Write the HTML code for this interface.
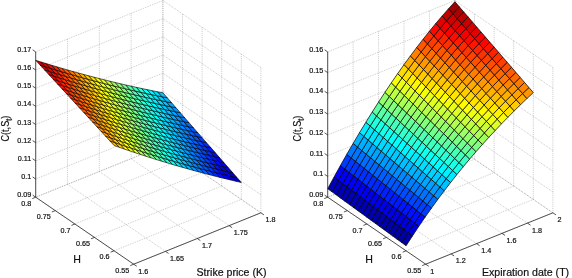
<!DOCTYPE html>
<html><head><meta charset="utf-8"><title>Option price surfaces</title>
<style>
html,body{margin:0;padding:0;background:#fff;}
svg{display:block;}
text{font-family:"Liberation Sans",sans-serif;fill:#111;stroke:#111;stroke-width:0.2px;}
.t{font-size:7.2px;}
.l{font-size:10.6px;}
.sub{font-size:8.5px;}
.g{stroke:#999;stroke-width:0.55;stroke-dasharray:0.9 1.0;fill:none;}
.a{stroke:#2a2a2a;stroke-width:0.8;fill:none;}
.f{stroke:#000;stroke-width:0.62;stroke-linejoin:round;}
.f2{stroke:#000;stroke-width:0.72;stroke-linejoin:round;}
</style></head><body>
<svg width="572" height="278" viewBox="0 0 572 278">
<rect width="572" height="278" fill="#fff"/>
<line class="g" x1="133.70" y1="264.20" x2="35.70" y2="197.20"/>
<line class="g" x1="35.70" y1="197.20" x2="35.70" y2="51.90"/>
<line class="g" x1="165.50" y1="251.35" x2="67.50" y2="184.35"/>
<line class="g" x1="67.50" y1="184.35" x2="67.50" y2="39.05"/>
<line class="g" x1="197.30" y1="238.50" x2="99.30" y2="171.50"/>
<line class="g" x1="99.30" y1="171.50" x2="99.30" y2="26.20"/>
<line class="g" x1="229.10" y1="225.65" x2="131.10" y2="158.65"/>
<line class="g" x1="131.10" y1="158.65" x2="131.10" y2="13.35"/>
<line class="g" x1="260.90" y1="212.80" x2="162.90" y2="145.80"/>
<line class="g" x1="162.90" y1="145.80" x2="162.90" y2="0.50"/>
<line class="g" x1="133.70" y1="264.20" x2="260.90" y2="212.80"/>
<line class="g" x1="260.90" y1="212.80" x2="260.90" y2="67.50"/>
<line class="g" x1="114.10" y1="250.80" x2="241.30" y2="199.40"/>
<line class="g" x1="241.30" y1="199.40" x2="241.30" y2="54.10"/>
<line class="g" x1="94.50" y1="237.40" x2="221.70" y2="186.00"/>
<line class="g" x1="221.70" y1="186.00" x2="221.70" y2="40.70"/>
<line class="g" x1="74.90" y1="224.00" x2="202.10" y2="172.60"/>
<line class="g" x1="202.10" y1="172.60" x2="202.10" y2="27.30"/>
<line class="g" x1="55.30" y1="210.60" x2="182.50" y2="159.20"/>
<line class="g" x1="182.50" y1="159.20" x2="182.50" y2="13.90"/>
<line class="g" x1="35.70" y1="197.20" x2="162.90" y2="145.80"/>
<line class="g" x1="162.90" y1="145.80" x2="162.90" y2="0.50"/>
<line class="g" x1="35.70" y1="197.20" x2="162.90" y2="145.80"/>
<line class="g" x1="162.90" y1="145.80" x2="260.90" y2="212.80"/>
<line class="g" x1="35.70" y1="179.04" x2="162.90" y2="127.64"/>
<line class="g" x1="162.90" y1="127.64" x2="260.90" y2="194.64"/>
<line class="g" x1="35.70" y1="160.88" x2="162.90" y2="109.47"/>
<line class="g" x1="162.90" y1="109.47" x2="260.90" y2="176.47"/>
<line class="g" x1="35.70" y1="142.71" x2="162.90" y2="91.31"/>
<line class="g" x1="162.90" y1="91.31" x2="260.90" y2="158.31"/>
<line class="g" x1="35.70" y1="124.55" x2="162.90" y2="73.15"/>
<line class="g" x1="162.90" y1="73.15" x2="260.90" y2="140.15"/>
<line class="g" x1="35.70" y1="106.39" x2="162.90" y2="54.99"/>
<line class="g" x1="162.90" y1="54.99" x2="260.90" y2="121.99"/>
<line class="g" x1="35.70" y1="88.22" x2="162.90" y2="36.82"/>
<line class="g" x1="162.90" y1="36.82" x2="260.90" y2="103.82"/>
<line class="g" x1="35.70" y1="70.06" x2="162.90" y2="18.66"/>
<line class="g" x1="162.90" y1="18.66" x2="260.90" y2="85.66"/>
<line class="g" x1="35.70" y1="51.90" x2="162.90" y2="0.50"/>
<line class="g" x1="162.90" y1="0.50" x2="260.90" y2="67.50"/>
<polygon class="f" fill="#ffb100" points="114.10,145.50 119.40,147.36 115.04,142.62 109.74,140.77"/>
<polygon class="f" fill="#ffa400" points="109.74,140.77 115.04,142.62 110.69,137.87 105.39,136.03"/>
<polygon class="f" fill="#ff9600" points="105.39,136.03 110.69,137.87 106.33,133.13 101.03,131.30"/>
<polygon class="f" fill="#ff8900" points="101.03,131.30 106.33,133.13 101.98,128.39 96.68,126.57"/>
<polygon class="f" fill="#ff7b00" points="96.68,126.57 101.98,128.39 97.62,123.64 92.32,121.83"/>
<polygon class="f" fill="#ff6e00" points="92.32,121.83 97.62,123.64 93.27,118.90 87.97,117.10"/>
<polygon class="f" fill="#ff6000" points="87.97,117.10 93.27,118.90 88.91,114.15 83.61,112.37"/>
<polygon class="f" fill="#ff5300" points="83.61,112.37 88.91,114.15 84.56,109.41 79.26,107.63"/>
<polygon class="f" fill="#ff4500" points="79.26,107.63 84.56,109.41 80.20,104.67 74.90,102.90"/>
<polygon class="f" fill="#ff3800" points="74.90,102.90 80.20,104.67 75.84,99.92 70.54,98.17"/>
<polygon class="f" fill="#ff2a00" points="70.54,98.17 75.84,99.92 71.49,95.18 66.19,93.43"/>
<polygon class="f" fill="#ff1d00" points="66.19,93.43 71.49,95.18 67.13,90.44 61.83,88.70"/>
<polygon class="f" fill="#ff0f00" points="61.83,88.70 67.13,90.44 62.78,85.69 57.48,83.97"/>
<polygon class="f" fill="#ff0200" points="57.48,83.97 62.78,85.69 58.42,80.95 53.12,79.23"/>
<polygon class="f" fill="#f30000" points="53.12,79.23 58.42,80.95 54.07,76.20 48.77,74.50"/>
<polygon class="f" fill="#e60000" points="48.77,74.50 54.07,76.20 49.71,71.46 44.41,69.77"/>
<polygon class="f" fill="#d90000" points="44.41,69.77 49.71,71.46 45.36,66.72 40.06,65.03"/>
<polygon class="f" fill="#cb0000" points="40.06,65.03 45.36,66.72 41.00,61.97 35.70,60.30"/>
<polygon class="f" fill="#ffd000" points="119.40,147.36 124.70,149.19 120.34,144.44 115.04,142.62"/>
<polygon class="f" fill="#ffc200" points="115.04,142.62 120.34,144.44 115.99,139.69 110.69,137.87"/>
<polygon class="f" fill="#ffb500" points="110.69,137.87 115.99,139.69 111.63,134.93 106.33,133.13"/>
<polygon class="f" fill="#ffa700" points="106.33,133.13 111.63,134.93 107.28,130.18 101.98,128.39"/>
<polygon class="f" fill="#ff9900" points="101.98,128.39 107.28,130.18 102.92,125.42 97.62,123.64"/>
<polygon class="f" fill="#ff8c00" points="97.62,123.64 102.92,125.42 98.57,120.67 93.27,118.90"/>
<polygon class="f" fill="#ff7e00" points="93.27,118.90 98.57,120.67 94.21,115.92 88.91,114.15"/>
<polygon class="f" fill="#ff7100" points="88.91,114.15 94.21,115.92 89.86,111.16 84.56,109.41"/>
<polygon class="f" fill="#ff6300" points="84.56,109.41 89.86,111.16 85.50,106.41 80.20,104.67"/>
<polygon class="f" fill="#ff5600" points="80.20,104.67 85.50,106.41 81.14,101.65 75.84,99.92"/>
<polygon class="f" fill="#ff4800" points="75.84,99.92 81.14,101.65 76.79,96.90 71.49,95.18"/>
<polygon class="f" fill="#ff3b00" points="71.49,95.18 76.79,96.90 72.43,92.14 67.13,90.44"/>
<polygon class="f" fill="#ff2d00" points="67.13,90.44 72.43,92.14 68.08,87.39 62.78,85.69"/>
<polygon class="f" fill="#ff2000" points="62.78,85.69 68.08,87.39 63.72,82.64 58.42,80.95"/>
<polygon class="f" fill="#ff1200" points="58.42,80.95 63.72,82.64 59.37,77.88 54.07,76.20"/>
<polygon class="f" fill="#ff0500" points="54.07,76.20 59.37,77.88 55.01,73.13 49.71,71.46"/>
<polygon class="f" fill="#f60000" points="49.71,71.46 55.01,73.13 50.66,68.37 45.36,66.72"/>
<polygon class="f" fill="#e80000" points="45.36,66.72 50.66,68.37 46.30,63.62 41.00,61.97"/>
<polygon class="f" fill="#ffee00" points="124.70,149.19 130.00,151.00 125.64,146.24 120.34,144.44"/>
<polygon class="f" fill="#ffe100" points="120.34,144.44 125.64,146.24 121.29,141.47 115.99,139.69"/>
<polygon class="f" fill="#ffd300" points="115.99,139.69 121.29,141.47 116.93,136.71 111.63,134.93"/>
<polygon class="f" fill="#ffc500" points="111.63,134.93 116.93,136.71 112.58,131.94 107.28,130.18"/>
<polygon class="f" fill="#ffb800" points="107.28,130.18 112.58,131.94 108.22,127.18 102.92,125.42"/>
<polygon class="f" fill="#ffaa00" points="102.92,125.42 108.22,127.18 103.87,122.41 98.57,120.67"/>
<polygon class="f" fill="#ff9c00" points="98.57,120.67 103.87,122.41 99.51,117.65 94.21,115.92"/>
<polygon class="f" fill="#ff8f00" points="94.21,115.92 99.51,117.65 95.16,112.88 89.86,111.16"/>
<polygon class="f" fill="#ff8100" points="89.86,111.16 95.16,112.88 90.80,108.12 85.50,106.41"/>
<polygon class="f" fill="#ff7400" points="85.50,106.41 90.80,108.12 86.44,103.35 81.14,101.65"/>
<polygon class="f" fill="#ff6600" points="81.14,101.65 86.44,103.35 82.09,98.59 76.79,96.90"/>
<polygon class="f" fill="#ff5800" points="76.79,96.90 82.09,98.59 77.73,93.82 72.43,92.14"/>
<polygon class="f" fill="#ff4b00" points="72.43,92.14 77.73,93.82 73.38,89.06 68.08,87.39"/>
<polygon class="f" fill="#ff3d00" points="68.08,87.39 73.38,89.06 69.02,84.30 63.72,82.64"/>
<polygon class="f" fill="#ff2f00" points="63.72,82.64 69.02,84.30 64.67,79.53 59.37,77.88"/>
<polygon class="f" fill="#ff2200" points="59.37,77.88 64.67,79.53 60.31,74.77 55.01,73.13"/>
<polygon class="f" fill="#ff1400" points="55.01,73.13 60.31,74.77 55.96,70.00 50.66,68.37"/>
<polygon class="f" fill="#ff0700" points="50.66,68.37 55.96,70.00 51.60,65.24 46.30,63.62"/>
<polygon class="f" fill="#f2ff0d" points="130.00,151.00 135.30,152.78 130.94,148.00 125.64,146.24"/>
<polygon class="f" fill="#ffff00" points="125.64,146.24 130.94,148.00 126.59,143.23 121.29,141.47"/>
<polygon class="f" fill="#fff100" points="121.29,141.47 126.59,143.23 122.23,138.45 116.93,136.71"/>
<polygon class="f" fill="#ffe300" points="116.93,136.71 122.23,138.45 117.88,133.68 112.58,131.94"/>
<polygon class="f" fill="#ffd600" points="112.58,131.94 117.88,133.68 113.52,128.90 108.22,127.18"/>
<polygon class="f" fill="#ffc800" points="108.22,127.18 113.52,128.90 109.17,124.13 103.87,122.41"/>
<polygon class="f" fill="#ffba00" points="103.87,122.41 109.17,124.13 104.81,119.35 99.51,117.65"/>
<polygon class="f" fill="#ffac00" points="99.51,117.65 104.81,119.35 100.46,114.58 95.16,112.88"/>
<polygon class="f" fill="#ff9f00" points="95.16,112.88 100.46,114.58 96.10,109.80 90.80,108.12"/>
<polygon class="f" fill="#ff9100" points="90.80,108.12 96.10,109.80 91.74,105.03 86.44,103.35"/>
<polygon class="f" fill="#ff8300" points="86.44,103.35 91.74,105.03 87.39,100.25 82.09,98.59"/>
<polygon class="f" fill="#ff7600" points="82.09,98.59 87.39,100.25 83.03,95.48 77.73,93.82"/>
<polygon class="f" fill="#ff6800" points="77.73,93.82 83.03,95.48 78.68,90.70 73.38,89.06"/>
<polygon class="f" fill="#ff5a00" points="73.38,89.06 78.68,90.70 74.32,85.93 69.02,84.30"/>
<polygon class="f" fill="#ff4d00" points="69.02,84.30 74.32,85.93 69.97,81.15 64.67,79.53"/>
<polygon class="f" fill="#ff3f00" points="64.67,79.53 69.97,81.15 65.61,76.38 60.31,74.77"/>
<polygon class="f" fill="#ff3100" points="60.31,74.77 65.61,76.38 61.26,71.60 55.96,70.00"/>
<polygon class="f" fill="#ff2300" points="55.96,70.00 61.26,71.60 56.90,66.83 51.60,65.24"/>
<polygon class="f" fill="#d4ff2b" points="135.30,152.78 140.60,154.53 136.24,149.74 130.94,148.00"/>
<polygon class="f" fill="#e1ff1e" points="130.94,148.00 136.24,149.74 131.89,144.96 126.59,143.23"/>
<polygon class="f" fill="#efff10" points="126.59,143.23 131.89,144.96 127.53,140.17 122.23,138.45"/>
<polygon class="f" fill="#fdff02" points="122.23,138.45 127.53,140.17 123.18,135.39 117.88,133.68"/>
<polygon class="f" fill="#fff300" points="117.88,133.68 123.18,135.39 118.82,130.60 113.52,128.90"/>
<polygon class="f" fill="#ffe600" points="113.52,128.90 118.82,130.60 114.47,125.82 109.17,124.13"/>
<polygon class="f" fill="#ffd800" points="109.17,124.13 114.47,125.82 110.11,121.03 104.81,119.35"/>
<polygon class="f" fill="#ffca00" points="104.81,119.35 110.11,121.03 105.76,116.24 100.46,114.58"/>
<polygon class="f" fill="#ffbc00" points="100.46,114.58 105.76,116.24 101.40,111.46 96.10,109.80"/>
<polygon class="f" fill="#ffae00" points="96.10,109.80 101.40,111.46 97.04,106.67 91.74,105.03"/>
<polygon class="f" fill="#ffa100" points="91.74,105.03 97.04,106.67 92.69,101.89 87.39,100.25"/>
<polygon class="f" fill="#ff9300" points="87.39,100.25 92.69,101.89 88.33,97.10 83.03,95.48"/>
<polygon class="f" fill="#ff8500" points="83.03,95.48 88.33,97.10 83.98,92.32 78.68,90.70"/>
<polygon class="f" fill="#ff7700" points="78.68,90.70 83.98,92.32 79.62,87.53 74.32,85.93"/>
<polygon class="f" fill="#ff6a00" points="74.32,85.93 79.62,87.53 75.27,82.75 69.97,81.15"/>
<polygon class="f" fill="#ff5c00" points="69.97,81.15 75.27,82.75 70.91,77.96 65.61,76.38"/>
<polygon class="f" fill="#ff4e00" points="65.61,76.38 70.91,77.96 66.56,73.18 61.26,71.60"/>
<polygon class="f" fill="#ff4000" points="61.26,71.60 66.56,73.18 62.20,68.39 56.90,66.83"/>
<polygon class="f" fill="#b6ff49" points="140.60,154.53 145.90,156.25 141.54,151.45 136.24,149.74"/>
<polygon class="f" fill="#c4ff3b" points="136.24,149.74 141.54,151.45 137.19,146.66 131.89,144.96"/>
<polygon class="f" fill="#d1ff2e" points="131.89,144.96 137.19,146.66 132.83,141.86 127.53,140.17"/>
<polygon class="f" fill="#dfff20" points="127.53,140.17 132.83,141.86 128.48,137.07 123.18,135.39"/>
<polygon class="f" fill="#edff12" points="123.18,135.39 128.48,137.07 124.12,132.27 118.82,130.60"/>
<polygon class="f" fill="#fbff04" points="118.82,130.60 124.12,132.27 119.77,127.47 114.47,125.82"/>
<polygon class="f" fill="#fff500" points="114.47,125.82 119.77,127.47 115.41,122.68 110.11,121.03"/>
<polygon class="f" fill="#ffe700" points="110.11,121.03 115.41,122.68 111.06,117.88 105.76,116.24"/>
<polygon class="f" fill="#ffd900" points="105.76,116.24 111.06,117.88 106.70,113.09 101.40,111.46"/>
<polygon class="f" fill="#ffcc00" points="101.40,111.46 106.70,113.09 102.34,108.29 97.04,106.67"/>
<polygon class="f" fill="#ffbe00" points="97.04,106.67 102.34,108.29 97.99,103.50 92.69,101.89"/>
<polygon class="f" fill="#ffb000" points="92.69,101.89 97.99,103.50 93.63,98.70 88.33,97.10"/>
<polygon class="f" fill="#ffa200" points="88.33,97.10 93.63,98.70 89.28,93.90 83.98,92.32"/>
<polygon class="f" fill="#ff9400" points="83.98,92.32 89.28,93.90 84.92,89.11 79.62,87.53"/>
<polygon class="f" fill="#ff8600" points="79.62,87.53 84.92,89.11 80.57,84.31 75.27,82.75"/>
<polygon class="f" fill="#ff7800" points="75.27,82.75 80.57,84.31 76.21,79.52 70.91,77.96"/>
<polygon class="f" fill="#ff6b00" points="70.91,77.96 76.21,79.52 71.86,74.72 66.56,73.18"/>
<polygon class="f" fill="#ff5d00" points="66.56,73.18 71.86,74.72 67.50,69.92 62.20,68.39"/>
<polygon class="f" fill="#98ff67" points="145.90,156.25 151.20,157.94 146.84,153.14 141.54,151.45"/>
<polygon class="f" fill="#a6ff59" points="141.54,151.45 146.84,153.14 142.49,148.33 137.19,146.66"/>
<polygon class="f" fill="#b4ff4b" points="137.19,146.66 142.49,148.33 138.13,143.53 132.83,141.86"/>
<polygon class="f" fill="#c2ff3d" points="132.83,141.86 138.13,143.53 133.78,138.72 128.48,137.07"/>
<polygon class="f" fill="#d0ff2f" points="128.48,137.07 133.78,138.72 129.42,133.91 124.12,132.27"/>
<polygon class="f" fill="#deff21" points="124.12,132.27 129.42,133.91 125.07,129.11 119.77,127.47"/>
<polygon class="f" fill="#ecff13" points="119.77,127.47 125.07,129.11 120.71,124.30 115.41,122.68"/>
<polygon class="f" fill="#faff05" points="115.41,122.68 120.71,124.30 116.36,119.49 111.06,117.88"/>
<polygon class="f" fill="#fff600" points="111.06,117.88 116.36,119.49 112.00,114.69 106.70,113.09"/>
<polygon class="f" fill="#ffe800" points="106.70,113.09 112.00,114.69 107.64,109.88 102.34,108.29"/>
<polygon class="f" fill="#ffdb00" points="102.34,108.29 107.64,109.88 103.29,105.08 97.99,103.50"/>
<polygon class="f" fill="#ffcd00" points="97.99,103.50 103.29,105.08 98.93,100.27 93.63,98.70"/>
<polygon class="f" fill="#ffbf00" points="93.63,98.70 98.93,100.27 94.58,95.46 89.28,93.90"/>
<polygon class="f" fill="#ffb100" points="89.28,93.90 94.58,95.46 90.22,90.66 84.92,89.11"/>
<polygon class="f" fill="#ffa300" points="84.92,89.11 90.22,90.66 85.87,85.85 80.57,84.31"/>
<polygon class="f" fill="#ff9500" points="80.57,84.31 85.87,85.85 81.51,81.04 76.21,79.52"/>
<polygon class="f" fill="#ff8700" points="76.21,79.52 81.51,81.04 77.16,76.24 71.86,74.72"/>
<polygon class="f" fill="#ff7900" points="71.86,74.72 77.16,76.24 72.80,71.43 67.50,69.92"/>
<polygon class="f" fill="#7bff84" points="151.20,157.94 156.50,159.61 152.14,154.79 146.84,153.14"/>
<polygon class="f" fill="#89ff76" points="146.84,153.14 152.14,154.79 147.79,149.98 142.49,148.33"/>
<polygon class="f" fill="#97ff68" points="142.49,148.33 147.79,149.98 143.43,145.16 138.13,143.53"/>
<polygon class="f" fill="#a5ff5a" points="138.13,143.53 143.43,145.16 139.08,140.34 133.78,138.72"/>
<polygon class="f" fill="#b3ff4c" points="133.78,138.72 139.08,140.34 134.72,135.53 129.42,133.91"/>
<polygon class="f" fill="#c1ff3e" points="129.42,133.91 134.72,135.53 130.37,130.71 125.07,129.11"/>
<polygon class="f" fill="#cfff30" points="125.07,129.11 130.37,130.71 126.01,125.89 120.71,124.30"/>
<polygon class="f" fill="#ddff22" points="120.71,124.30 126.01,125.89 121.66,121.08 116.36,119.49"/>
<polygon class="f" fill="#ebff14" points="116.36,119.49 121.66,121.08 117.30,116.26 112.00,114.69"/>
<polygon class="f" fill="#f9ff06" points="112.00,114.69 117.30,116.26 112.94,111.44 107.64,109.88"/>
<polygon class="f" fill="#fff700" points="107.64,109.88 112.94,111.44 108.59,106.63 103.29,105.08"/>
<polygon class="f" fill="#ffe900" points="103.29,105.08 108.59,106.63 104.23,101.81 98.93,100.27"/>
<polygon class="f" fill="#ffdb00" points="98.93,100.27 104.23,101.81 99.88,96.99 94.58,95.46"/>
<polygon class="f" fill="#ffcd00" points="94.58,95.46 99.88,96.99 95.52,92.18 90.22,90.66"/>
<polygon class="f" fill="#ffbf00" points="90.22,90.66 95.52,92.18 91.17,87.36 85.87,85.85"/>
<polygon class="f" fill="#ffb100" points="85.87,85.85 91.17,87.36 86.81,82.54 81.51,81.04"/>
<polygon class="f" fill="#ffa300" points="81.51,81.04 86.81,82.54 82.46,77.73 77.16,76.24"/>
<polygon class="f" fill="#ff9500" points="77.16,76.24 82.46,77.73 78.10,72.91 72.80,71.43"/>
<polygon class="f" fill="#5dffa2" points="156.50,159.61 161.80,161.25 157.44,156.42 152.14,154.79"/>
<polygon class="f" fill="#6cff93" points="152.14,154.79 157.44,156.42 153.09,151.60 147.79,149.98"/>
<polygon class="f" fill="#7aff85" points="147.79,149.98 153.09,151.60 148.73,146.77 143.43,145.16"/>
<polygon class="f" fill="#88ff77" points="143.43,145.16 148.73,146.77 144.38,141.94 139.08,140.34"/>
<polygon class="f" fill="#96ff69" points="139.08,140.34 144.38,141.94 140.02,137.11 134.72,135.53"/>
<polygon class="f" fill="#a4ff5b" points="134.72,135.53 140.02,137.11 135.67,132.29 130.37,130.71"/>
<polygon class="f" fill="#b2ff4d" points="130.37,130.71 135.67,132.29 131.31,127.46 126.01,125.89"/>
<polygon class="f" fill="#c0ff3f" points="126.01,125.89 131.31,127.46 126.96,122.63 121.66,121.08"/>
<polygon class="f" fill="#ceff31" points="121.66,121.08 126.96,122.63 122.60,117.81 117.30,116.26"/>
<polygon class="f" fill="#dcff23" points="117.30,116.26 122.60,117.81 118.24,112.98 112.94,111.44"/>
<polygon class="f" fill="#eaff15" points="112.94,111.44 118.24,112.98 113.89,108.15 108.59,106.63"/>
<polygon class="f" fill="#f9ff06" points="108.59,106.63 113.89,108.15 109.53,103.32 104.23,101.81"/>
<polygon class="f" fill="#fff700" points="104.23,101.81 109.53,103.32 105.18,98.50 99.88,96.99"/>
<polygon class="f" fill="#ffe900" points="99.88,96.99 105.18,98.50 100.82,93.67 95.52,92.18"/>
<polygon class="f" fill="#ffdb00" points="95.52,92.18 100.82,93.67 96.47,88.84 91.17,87.36"/>
<polygon class="f" fill="#ffcd00" points="91.17,87.36 96.47,88.84 92.11,84.02 86.81,82.54"/>
<polygon class="f" fill="#ffbf00" points="86.81,82.54 92.11,84.02 87.76,79.19 82.46,77.73"/>
<polygon class="f" fill="#ffb100" points="82.46,77.73 87.76,79.19 83.40,74.36 78.10,72.91"/>
<polygon class="f" fill="#40ffbf" points="161.80,161.25 167.10,162.86 162.74,158.02 157.44,156.42"/>
<polygon class="f" fill="#4fffb0" points="157.44,156.42 162.74,158.02 158.39,153.19 153.09,151.60"/>
<polygon class="f" fill="#5dffa2" points="153.09,151.60 158.39,153.19 154.03,148.35 148.73,146.77"/>
<polygon class="f" fill="#6bff94" points="148.73,146.77 154.03,148.35 149.68,143.51 144.38,141.94"/>
<polygon class="f" fill="#79ff86" points="144.38,141.94 149.68,143.51 145.32,138.67 140.02,137.11"/>
<polygon class="f" fill="#87ff78" points="140.02,137.11 145.32,138.67 140.97,133.84 135.67,132.29"/>
<polygon class="f" fill="#96ff69" points="135.67,132.29 140.97,133.84 136.61,129.00 131.31,127.46"/>
<polygon class="f" fill="#a4ff5b" points="131.31,127.46 136.61,129.00 132.26,124.16 126.96,122.63"/>
<polygon class="f" fill="#b2ff4d" points="126.96,122.63 132.26,124.16 127.90,119.32 122.60,117.81"/>
<polygon class="f" fill="#c0ff3f" points="122.60,117.81 127.90,119.32 123.54,114.49 118.24,112.98"/>
<polygon class="f" fill="#ceff31" points="118.24,112.98 123.54,114.49 119.19,109.65 113.89,108.15"/>
<polygon class="f" fill="#dcff23" points="113.89,108.15 119.19,109.65 114.83,104.81 109.53,103.32"/>
<polygon class="f" fill="#ebff14" points="109.53,103.32 114.83,104.81 110.48,99.97 105.18,98.50"/>
<polygon class="f" fill="#f9ff06" points="105.18,98.50 110.48,99.97 106.12,95.14 100.82,93.67"/>
<polygon class="f" fill="#fff700" points="100.82,93.67 106.12,95.14 101.77,90.30 96.47,88.84"/>
<polygon class="f" fill="#ffe900" points="96.47,88.84 101.77,90.30 97.41,85.46 92.11,84.02"/>
<polygon class="f" fill="#ffdb00" points="92.11,84.02 97.41,85.46 93.06,80.62 87.76,79.19"/>
<polygon class="f" fill="#ffcc00" points="87.76,79.19 93.06,80.62 88.70,75.79 83.40,74.36"/>
<polygon class="f" fill="#24ffdb" points="167.10,162.86 172.40,164.44 168.04,159.60 162.74,158.02"/>
<polygon class="f" fill="#32ffcd" points="162.74,158.02 168.04,159.60 163.69,154.75 158.39,153.19"/>
<polygon class="f" fill="#40ffbf" points="158.39,153.19 163.69,154.75 159.33,149.90 154.03,148.35"/>
<polygon class="f" fill="#4effb1" points="154.03,148.35 159.33,149.90 154.98,145.05 149.68,143.51"/>
<polygon class="f" fill="#5dffa2" points="149.68,143.51 154.98,145.05 150.62,140.20 145.32,138.67"/>
<polygon class="f" fill="#6bff94" points="145.32,138.67 150.62,140.20 146.27,135.36 140.97,133.84"/>
<polygon class="f" fill="#79ff86" points="140.97,133.84 146.27,135.36 141.91,130.51 136.61,129.00"/>
<polygon class="f" fill="#87ff78" points="136.61,129.00 141.91,130.51 137.56,125.66 132.26,124.16"/>
<polygon class="f" fill="#96ff69" points="132.26,124.16 137.56,125.66 133.20,120.81 127.90,119.32"/>
<polygon class="f" fill="#a4ff5b" points="127.90,119.32 133.20,120.81 128.84,115.97 123.54,114.49"/>
<polygon class="f" fill="#b2ff4d" points="123.54,114.49 128.84,115.97 124.49,111.12 119.19,109.65"/>
<polygon class="f" fill="#c1ff3e" points="119.19,109.65 124.49,111.12 120.13,106.27 114.83,104.81"/>
<polygon class="f" fill="#cfff30" points="114.83,104.81 120.13,106.27 115.78,101.42 110.48,99.97"/>
<polygon class="f" fill="#ddff22" points="110.48,99.97 115.78,101.42 111.42,96.57 106.12,95.14"/>
<polygon class="f" fill="#ebff14" points="106.12,95.14 111.42,96.57 107.07,91.73 101.77,90.30"/>
<polygon class="f" fill="#faff05" points="101.77,90.30 107.07,91.73 102.71,86.88 97.41,85.46"/>
<polygon class="f" fill="#fff600" points="97.41,85.46 102.71,86.88 98.36,82.03 93.06,80.62"/>
<polygon class="f" fill="#ffe800" points="93.06,80.62 98.36,82.03 94.00,77.18 88.70,75.79"/>
<polygon class="f" fill="#07fff8" points="172.40,164.44 177.70,166.00 173.34,161.14 168.04,159.60"/>
<polygon class="f" fill="#15ffea" points="168.04,159.60 173.34,161.14 168.99,156.28 163.69,154.75"/>
<polygon class="f" fill="#24ffdb" points="163.69,154.75 168.99,156.28 164.63,151.43 159.33,149.90"/>
<polygon class="f" fill="#32ffcd" points="159.33,149.90 164.63,151.43 160.28,146.57 154.98,145.05"/>
<polygon class="f" fill="#40ffbf" points="154.98,145.05 160.28,146.57 155.92,141.71 150.62,140.20"/>
<polygon class="f" fill="#4fffb0" points="150.62,140.20 155.92,141.71 151.57,136.85 146.27,135.36"/>
<polygon class="f" fill="#5dffa2" points="146.27,135.36 151.57,136.85 147.21,131.99 141.91,130.51"/>
<polygon class="f" fill="#6bff94" points="141.91,130.51 147.21,131.99 142.86,127.13 137.56,125.66"/>
<polygon class="f" fill="#7aff85" points="137.56,125.66 142.86,127.13 138.50,122.28 133.20,120.81"/>
<polygon class="f" fill="#88ff77" points="133.20,120.81 138.50,122.28 134.14,117.42 128.84,115.97"/>
<polygon class="f" fill="#96ff69" points="128.84,115.97 134.14,117.42 129.79,112.56 124.49,111.12"/>
<polygon class="f" fill="#a5ff5a" points="124.49,111.12 129.79,112.56 125.43,107.70 120.13,106.27"/>
<polygon class="f" fill="#b3ff4c" points="120.13,106.27 125.43,107.70 121.08,102.84 115.78,101.42"/>
<polygon class="f" fill="#c2ff3d" points="115.78,101.42 121.08,102.84 116.72,97.98 111.42,96.57"/>
<polygon class="f" fill="#d0ff2f" points="111.42,96.57 116.72,97.98 112.37,93.12 107.07,91.73"/>
<polygon class="f" fill="#deff21" points="107.07,91.73 112.37,93.12 108.01,88.27 102.71,86.88"/>
<polygon class="f" fill="#edff12" points="102.71,86.88 108.01,88.27 103.66,83.41 98.36,82.03"/>
<polygon class="f" fill="#fbff04" points="98.36,82.03 103.66,83.41 99.30,78.55 94.00,77.18"/>
<polygon class="f" fill="#00eaff" points="177.70,166.00 183.00,167.53 178.64,162.66 173.34,161.14"/>
<polygon class="f" fill="#00f8ff" points="173.34,161.14 178.64,162.66 174.29,157.79 168.99,156.28"/>
<polygon class="f" fill="#08fff7" points="168.99,156.28 174.29,157.79 169.93,152.92 164.63,151.43"/>
<polygon class="f" fill="#16ffe9" points="164.63,151.43 169.93,152.92 165.58,148.05 160.28,146.57"/>
<polygon class="f" fill="#24ffdb" points="160.28,146.57 165.58,148.05 161.22,143.18 155.92,141.71"/>
<polygon class="f" fill="#33ffcc" points="155.92,141.71 161.22,143.18 156.87,138.32 151.57,136.85"/>
<polygon class="f" fill="#41ffbe" points="151.57,136.85 156.87,138.32 152.51,133.45 147.21,131.99"/>
<polygon class="f" fill="#50ffaf" points="147.21,131.99 152.51,133.45 148.16,128.58 142.86,127.13"/>
<polygon class="f" fill="#5effa1" points="142.86,127.13 148.16,128.58 143.80,123.71 138.50,122.28"/>
<polygon class="f" fill="#6dff92" points="138.50,122.28 143.80,123.71 139.44,118.84 134.14,117.42"/>
<polygon class="f" fill="#7bff84" points="134.14,117.42 139.44,118.84 135.09,113.97 129.79,112.56"/>
<polygon class="f" fill="#89ff76" points="129.79,112.56 135.09,113.97 130.73,109.10 125.43,107.70"/>
<polygon class="f" fill="#98ff67" points="125.43,107.70 130.73,109.10 126.38,104.23 121.08,102.84"/>
<polygon class="f" fill="#a6ff59" points="121.08,102.84 126.38,104.23 122.02,99.37 116.72,97.98"/>
<polygon class="f" fill="#b5ff4a" points="116.72,97.98 122.02,99.37 117.67,94.50 112.37,93.12"/>
<polygon class="f" fill="#c3ff3c" points="112.37,93.12 117.67,94.50 113.31,89.63 108.01,88.27"/>
<polygon class="f" fill="#d1ff2e" points="108.01,88.27 113.31,89.63 108.96,84.76 103.66,83.41"/>
<polygon class="f" fill="#e0ff1f" points="103.66,83.41 108.96,84.76 104.60,79.89 99.30,78.55"/>
<polygon class="f" fill="#00ceff" points="183.00,167.53 188.30,169.03 183.94,164.15 178.64,162.66"/>
<polygon class="f" fill="#00dcff" points="178.64,162.66 183.94,164.15 179.59,159.27 174.29,157.79"/>
<polygon class="f" fill="#00ebff" points="174.29,157.79 179.59,159.27 175.23,154.39 169.93,152.92"/>
<polygon class="f" fill="#00f9ff" points="169.93,152.92 175.23,154.39 170.88,149.51 165.58,148.05"/>
<polygon class="f" fill="#09fff6" points="165.58,148.05 170.88,149.51 166.52,144.63 161.22,143.18"/>
<polygon class="f" fill="#17ffe8" points="161.22,143.18 166.52,144.63 162.17,139.75 156.87,138.32"/>
<polygon class="f" fill="#26ffd9" points="156.87,138.32 162.17,139.75 157.81,134.87 152.51,133.45"/>
<polygon class="f" fill="#34ffcb" points="152.51,133.45 157.81,134.87 153.46,129.99 148.16,128.58"/>
<polygon class="f" fill="#43ffbc" points="148.16,128.58 153.46,129.99 149.10,125.12 143.80,123.71"/>
<polygon class="f" fill="#51ffae" points="143.80,123.71 149.10,125.12 144.74,120.24 139.44,118.84"/>
<polygon class="f" fill="#60ff9f" points="139.44,118.84 144.74,120.24 140.39,115.36 135.09,113.97"/>
<polygon class="f" fill="#6eff91" points="135.09,113.97 140.39,115.36 136.03,110.48 130.73,109.10"/>
<polygon class="f" fill="#7dff82" points="130.73,109.10 136.03,110.48 131.68,105.60 126.38,104.23"/>
<polygon class="f" fill="#8bff74" points="126.38,104.23 131.68,105.60 127.32,100.72 122.02,99.37"/>
<polygon class="f" fill="#9aff65" points="122.02,99.37 127.32,100.72 122.97,95.84 117.67,94.50"/>
<polygon class="f" fill="#a8ff57" points="117.67,94.50 122.97,95.84 118.61,90.96 113.31,89.63"/>
<polygon class="f" fill="#b7ff48" points="113.31,89.63 118.61,90.96 114.26,86.08 108.96,84.76"/>
<polygon class="f" fill="#c5ff3a" points="108.96,84.76 114.26,86.08 109.90,81.20 104.60,79.89"/>
<polygon class="f" fill="#00b2ff" points="188.30,169.03 193.60,170.50 189.24,165.61 183.94,164.15"/>
<polygon class="f" fill="#00c0ff" points="183.94,164.15 189.24,165.61 184.89,160.72 179.59,159.27"/>
<polygon class="f" fill="#00cfff" points="179.59,159.27 184.89,160.72 180.53,155.83 175.23,154.39"/>
<polygon class="f" fill="#00ddff" points="175.23,154.39 180.53,155.83 176.18,150.94 170.88,149.51"/>
<polygon class="f" fill="#00ecff" points="170.88,149.51 176.18,150.94 171.82,146.05 166.52,144.63"/>
<polygon class="f" fill="#00fbff" points="166.52,144.63 171.82,146.05 167.47,141.16 162.17,139.75"/>
<polygon class="f" fill="#0afff5" points="162.17,139.75 167.47,141.16 163.11,136.27 157.81,134.87"/>
<polygon class="f" fill="#19ffe6" points="157.81,134.87 163.11,136.27 158.76,131.38 153.46,129.99"/>
<polygon class="f" fill="#27ffd8" points="153.46,129.99 158.76,131.38 154.40,126.49 149.10,125.12"/>
<polygon class="f" fill="#36ffc9" points="149.10,125.12 154.40,126.49 150.04,121.60 144.74,120.24"/>
<polygon class="f" fill="#44ffbb" points="144.74,120.24 150.04,121.60 145.69,116.71 140.39,115.36"/>
<polygon class="f" fill="#53ffac" points="140.39,115.36 145.69,116.71 141.33,111.83 136.03,110.48"/>
<polygon class="f" fill="#62ff9d" points="136.03,110.48 141.33,111.83 136.98,106.94 131.68,105.60"/>
<polygon class="f" fill="#70ff8f" points="131.68,105.60 136.98,106.94 132.62,102.05 127.32,100.72"/>
<polygon class="f" fill="#7fff80" points="127.32,100.72 132.62,102.05 128.27,97.16 122.97,95.84"/>
<polygon class="f" fill="#8dff72" points="122.97,95.84 128.27,97.16 123.91,92.27 118.61,90.96"/>
<polygon class="f" fill="#9cff63" points="118.61,90.96 123.91,92.27 119.56,87.38 114.26,86.08"/>
<polygon class="f" fill="#abff54" points="114.26,86.08 119.56,87.38 115.20,82.49 109.90,81.20"/>
<polygon class="f" fill="#0096ff" points="193.60,170.50 198.90,171.94 194.54,167.04 189.24,165.61"/>
<polygon class="f" fill="#00a5ff" points="189.24,165.61 194.54,167.04 190.19,162.14 184.89,160.72"/>
<polygon class="f" fill="#00b3ff" points="184.89,160.72 190.19,162.14 185.83,157.24 180.53,155.83"/>
<polygon class="f" fill="#00c2ff" points="180.53,155.83 185.83,157.24 181.48,152.34 176.18,150.94"/>
<polygon class="f" fill="#00d1ff" points="176.18,150.94 181.48,152.34 177.12,147.44 171.82,146.05"/>
<polygon class="f" fill="#00dfff" points="171.82,146.05 177.12,147.44 172.77,142.54 167.47,141.16"/>
<polygon class="f" fill="#00eeff" points="167.47,141.16 172.77,142.54 168.41,137.64 163.11,136.27"/>
<polygon class="f" fill="#00fdff" points="163.11,136.27 168.41,137.64 164.06,132.74 158.76,131.38"/>
<polygon class="f" fill="#0cfff3" points="158.76,131.38 164.06,132.74 159.70,127.84 154.40,126.49"/>
<polygon class="f" fill="#1bffe4" points="154.40,126.49 159.70,127.84 155.34,122.94 150.04,121.60"/>
<polygon class="f" fill="#2affd5" points="150.04,121.60 155.34,122.94 150.99,118.04 145.69,116.71"/>
<polygon class="f" fill="#38ffc7" points="145.69,116.71 150.99,118.04 146.63,113.14 141.33,111.83"/>
<polygon class="f" fill="#47ffb8" points="141.33,111.83 146.63,113.14 142.28,108.24 136.98,106.94"/>
<polygon class="f" fill="#56ffa9" points="136.98,106.94 142.28,108.24 137.92,103.34 132.62,102.05"/>
<polygon class="f" fill="#64ff9b" points="132.62,102.05 137.92,103.34 133.57,98.44 128.27,97.16"/>
<polygon class="f" fill="#73ff8c" points="128.27,97.16 133.57,98.44 129.21,93.54 123.91,92.27"/>
<polygon class="f" fill="#82ff7d" points="123.91,92.27 129.21,93.54 124.86,88.64 119.56,87.38"/>
<polygon class="f" fill="#90ff6f" points="119.56,87.38 124.86,88.64 120.50,83.74 115.20,82.49"/>
<polygon class="f" fill="#007aff" points="198.90,171.94 204.20,173.36 199.84,168.45 194.54,167.04"/>
<polygon class="f" fill="#0089ff" points="194.54,167.04 199.84,168.45 195.49,163.54 190.19,162.14"/>
<polygon class="f" fill="#0098ff" points="190.19,162.14 195.49,163.54 191.13,158.63 185.83,157.24"/>
<polygon class="f" fill="#00a7ff" points="185.83,157.24 191.13,158.63 186.78,153.72 181.48,152.34"/>
<polygon class="f" fill="#00b5ff" points="181.48,152.34 186.78,153.72 182.42,148.81 177.12,147.44"/>
<polygon class="f" fill="#00c4ff" points="177.12,147.44 182.42,148.81 178.07,143.90 172.77,142.54"/>
<polygon class="f" fill="#00d3ff" points="172.77,142.54 178.07,143.90 173.71,138.99 168.41,137.64"/>
<polygon class="f" fill="#00e2ff" points="168.41,137.64 173.71,138.99 169.36,134.08 164.06,132.74"/>
<polygon class="f" fill="#00f0ff" points="164.06,132.74 169.36,134.08 165.00,129.17 159.70,127.84"/>
<polygon class="f" fill="#00ffff" points="159.70,127.84 165.00,129.17 160.64,124.26 155.34,122.94"/>
<polygon class="f" fill="#0ffff0" points="155.34,122.94 160.64,124.26 156.29,119.35 150.99,118.04"/>
<polygon class="f" fill="#1effe1" points="150.99,118.04 156.29,119.35 151.93,114.44 146.63,113.14"/>
<polygon class="f" fill="#2cffd3" points="146.63,113.14 151.93,114.44 147.58,109.53 142.28,108.24"/>
<polygon class="f" fill="#3bffc4" points="142.28,108.24 147.58,109.53 143.22,104.62 137.92,103.34"/>
<polygon class="f" fill="#4affb5" points="137.92,103.34 143.22,104.62 138.87,99.70 133.57,98.44"/>
<polygon class="f" fill="#59ffa6" points="133.57,98.44 138.87,99.70 134.51,94.79 129.21,93.54"/>
<polygon class="f" fill="#67ff98" points="129.21,93.54 134.51,94.79 130.16,89.88 124.86,88.64"/>
<polygon class="f" fill="#76ff89" points="124.86,88.64 130.16,89.88 125.80,84.97 120.50,83.74"/>
<polygon class="f" fill="#005fff" points="204.20,173.36 209.50,174.75 205.14,169.83 199.84,168.45"/>
<polygon class="f" fill="#006eff" points="199.84,168.45 205.14,169.83 200.79,164.91 195.49,163.54"/>
<polygon class="f" fill="#007dff" points="195.49,163.54 200.79,164.91 196.43,159.99 191.13,158.63"/>
<polygon class="f" fill="#008cff" points="191.13,158.63 196.43,159.99 192.08,155.07 186.78,153.72"/>
<polygon class="f" fill="#009aff" points="186.78,153.72 192.08,155.07 187.72,150.15 182.42,148.81"/>
<polygon class="f" fill="#00a9ff" points="182.42,148.81 187.72,150.15 183.37,145.22 178.07,143.90"/>
<polygon class="f" fill="#00b8ff" points="178.07,143.90 183.37,145.22 179.01,140.30 173.71,138.99"/>
<polygon class="f" fill="#00c7ff" points="173.71,138.99 179.01,140.30 174.66,135.38 169.36,134.08"/>
<polygon class="f" fill="#00d6ff" points="169.36,134.08 174.66,135.38 170.30,130.46 165.00,129.17"/>
<polygon class="f" fill="#00e5ff" points="165.00,129.17 170.30,130.46 165.94,125.54 160.64,124.26"/>
<polygon class="f" fill="#00f3ff" points="160.64,124.26 165.94,125.54 161.59,120.62 156.29,119.35"/>
<polygon class="f" fill="#03fffc" points="156.29,119.35 161.59,120.62 157.23,115.70 151.93,114.44"/>
<polygon class="f" fill="#12ffed" points="151.93,114.44 157.23,115.70 152.88,110.78 147.58,109.53"/>
<polygon class="f" fill="#21ffde" points="147.58,109.53 152.88,110.78 148.52,105.86 143.22,104.62"/>
<polygon class="f" fill="#30ffcf" points="143.22,104.62 148.52,105.86 144.17,100.94 138.87,99.70"/>
<polygon class="f" fill="#3effc1" points="138.87,99.70 144.17,100.94 139.81,96.02 134.51,94.79"/>
<polygon class="f" fill="#4dffb2" points="134.51,94.79 139.81,96.02 135.46,91.10 130.16,89.88"/>
<polygon class="f" fill="#5cffa3" points="130.16,89.88 135.46,91.10 131.10,86.17 125.80,84.97"/>
<polygon class="f" fill="#0044ff" points="209.50,174.75 214.80,176.11 210.44,171.18 205.14,169.83"/>
<polygon class="f" fill="#0053ff" points="205.14,169.83 210.44,171.18 206.09,166.25 200.79,164.91"/>
<polygon class="f" fill="#0062ff" points="200.79,164.91 206.09,166.25 201.73,161.32 196.43,159.99"/>
<polygon class="f" fill="#0071ff" points="196.43,159.99 201.73,161.32 197.38,156.39 192.08,155.07"/>
<polygon class="f" fill="#0080ff" points="192.08,155.07 197.38,156.39 193.02,151.45 187.72,150.15"/>
<polygon class="f" fill="#008fff" points="187.72,150.15 193.02,151.45 188.67,146.52 183.37,145.22"/>
<polygon class="f" fill="#009dff" points="183.37,145.22 188.67,146.52 184.31,141.59 179.01,140.30"/>
<polygon class="f" fill="#00acff" points="179.01,140.30 184.31,141.59 179.96,136.66 174.66,135.38"/>
<polygon class="f" fill="#00bbff" points="174.66,135.38 179.96,136.66 175.60,131.73 170.30,130.46"/>
<polygon class="f" fill="#00caff" points="170.30,130.46 175.60,131.73 171.24,126.80 165.94,125.54"/>
<polygon class="f" fill="#00d9ff" points="165.94,125.54 171.24,126.80 166.89,121.87 161.59,120.62"/>
<polygon class="f" fill="#00e8ff" points="161.59,120.62 166.89,121.87 162.53,116.94 157.23,115.70"/>
<polygon class="f" fill="#00f7ff" points="157.23,115.70 162.53,116.94 158.18,112.00 152.88,110.78"/>
<polygon class="f" fill="#07fff8" points="152.88,110.78 158.18,112.00 153.82,107.07 148.52,105.86"/>
<polygon class="f" fill="#16ffe9" points="148.52,105.86 153.82,107.07 149.47,102.14 144.17,100.94"/>
<polygon class="f" fill="#25ffda" points="144.17,100.94 149.47,102.14 145.11,97.21 139.81,96.02"/>
<polygon class="f" fill="#33ffcc" points="139.81,96.02 145.11,97.21 140.76,92.28 135.46,91.10"/>
<polygon class="f" fill="#42ffbd" points="135.46,91.10 140.76,92.28 136.40,87.35 131.10,86.17"/>
<polygon class="f" fill="#0029ff" points="214.80,176.11 220.10,177.44 215.74,172.50 210.44,171.18"/>
<polygon class="f" fill="#0038ff" points="210.44,171.18 215.74,172.50 211.39,167.56 206.09,166.25"/>
<polygon class="f" fill="#0047ff" points="206.09,166.25 211.39,167.56 207.03,162.62 201.73,161.32"/>
<polygon class="f" fill="#0056ff" points="201.73,161.32 207.03,162.62 202.68,157.68 197.38,156.39"/>
<polygon class="f" fill="#0065ff" points="197.38,156.39 202.68,157.68 198.32,152.74 193.02,151.45"/>
<polygon class="f" fill="#0074ff" points="193.02,151.45 198.32,152.74 193.97,147.79 188.67,146.52"/>
<polygon class="f" fill="#0083ff" points="188.67,146.52 193.97,147.79 189.61,142.85 184.31,141.59"/>
<polygon class="f" fill="#0092ff" points="184.31,141.59 189.61,142.85 185.26,137.91 179.96,136.66"/>
<polygon class="f" fill="#00a1ff" points="179.96,136.66 185.26,137.91 180.90,132.97 175.60,131.73"/>
<polygon class="f" fill="#00b0ff" points="175.60,131.73 180.90,132.97 176.54,128.03 171.24,126.80"/>
<polygon class="f" fill="#00bfff" points="171.24,126.80 176.54,128.03 172.19,123.09 166.89,121.87"/>
<polygon class="f" fill="#00ceff" points="166.89,121.87 172.19,123.09 167.83,118.14 162.53,116.94"/>
<polygon class="f" fill="#00ddff" points="162.53,116.94 167.83,118.14 163.48,113.20 158.18,112.00"/>
<polygon class="f" fill="#00ecff" points="158.18,112.00 163.48,113.20 159.12,108.26 153.82,107.07"/>
<polygon class="f" fill="#00fbff" points="153.82,107.07 159.12,108.26 154.77,103.32 149.47,102.14"/>
<polygon class="f" fill="#0bfff4" points="149.47,102.14 154.77,103.32 150.41,98.38 145.11,97.21"/>
<polygon class="f" fill="#1affe5" points="145.11,97.21 150.41,98.38 146.06,93.44 140.76,92.28"/>
<polygon class="f" fill="#29ffd6" points="140.76,92.28 146.06,93.44 141.70,88.49 136.40,87.35"/>
<polygon class="f" fill="#000fff" points="220.10,177.44 225.40,178.75 221.04,173.80 215.74,172.50"/>
<polygon class="f" fill="#001eff" points="215.74,172.50 221.04,173.80 216.69,168.85 211.39,167.56"/>
<polygon class="f" fill="#002dff" points="211.39,167.56 216.69,168.85 212.33,163.89 207.03,162.62"/>
<polygon class="f" fill="#003cff" points="207.03,162.62 212.33,163.89 207.98,158.94 202.68,157.68"/>
<polygon class="f" fill="#004bff" points="202.68,157.68 207.98,158.94 203.62,153.99 198.32,152.74"/>
<polygon class="f" fill="#005aff" points="198.32,152.74 203.62,153.99 199.27,149.04 193.97,147.79"/>
<polygon class="f" fill="#0069ff" points="193.97,147.79 199.27,149.04 194.91,144.09 189.61,142.85"/>
<polygon class="f" fill="#0078ff" points="189.61,142.85 194.91,144.09 190.56,139.13 185.26,137.91"/>
<polygon class="f" fill="#0087ff" points="185.26,137.91 190.56,139.13 186.20,134.18 180.90,132.97"/>
<polygon class="f" fill="#0096ff" points="180.90,132.97 186.20,134.18 181.84,129.23 176.54,128.03"/>
<polygon class="f" fill="#00a5ff" points="176.54,128.03 181.84,129.23 177.49,124.28 172.19,123.09"/>
<polygon class="f" fill="#00b4ff" points="172.19,123.09 177.49,124.28 173.13,119.32 167.83,118.14"/>
<polygon class="f" fill="#00c3ff" points="167.83,118.14 173.13,119.32 168.78,114.37 163.48,113.20"/>
<polygon class="f" fill="#00d2ff" points="163.48,113.20 168.78,114.37 164.42,109.42 159.12,108.26"/>
<polygon class="f" fill="#00e1ff" points="159.12,108.26 164.42,109.42 160.07,104.47 154.77,103.32"/>
<polygon class="f" fill="#00f0ff" points="154.77,103.32 160.07,104.47 155.71,99.52 150.41,98.38"/>
<polygon class="f" fill="#01fffe" points="150.41,98.38 155.71,99.52 151.36,94.56 146.06,93.44"/>
<polygon class="f" fill="#10ffef" points="146.06,93.44 151.36,94.56 147.00,89.61 141.70,88.49"/>
<polygon class="f" fill="#0000f3" points="225.40,178.75 230.70,180.03 226.34,175.07 221.04,173.80"/>
<polygon class="f" fill="#0003ff" points="221.04,173.80 226.34,175.07 221.99,170.10 216.69,168.85"/>
<polygon class="f" fill="#0012ff" points="216.69,168.85 221.99,170.10 217.63,165.14 212.33,163.89"/>
<polygon class="f" fill="#0022ff" points="212.33,163.89 217.63,165.14 213.28,160.18 207.98,158.94"/>
<polygon class="f" fill="#0031ff" points="207.98,158.94 213.28,160.18 208.92,155.22 203.62,153.99"/>
<polygon class="f" fill="#0040ff" points="203.62,153.99 208.92,155.22 204.57,150.25 199.27,149.04"/>
<polygon class="f" fill="#004fff" points="199.27,149.04 204.57,150.25 200.21,145.29 194.91,144.09"/>
<polygon class="f" fill="#005eff" points="194.91,144.09 200.21,145.29 195.86,140.33 190.56,139.13"/>
<polygon class="f" fill="#006dff" points="190.56,139.13 195.86,140.33 191.50,135.37 186.20,134.18"/>
<polygon class="f" fill="#007cff" points="186.20,134.18 191.50,135.37 187.14,130.40 181.84,129.23"/>
<polygon class="f" fill="#008cff" points="181.84,129.23 187.14,130.40 182.79,125.44 177.49,124.28"/>
<polygon class="f" fill="#009bff" points="177.49,124.28 182.79,125.44 178.43,120.48 173.13,119.32"/>
<polygon class="f" fill="#00aaff" points="173.13,119.32 178.43,120.48 174.08,115.52 168.78,114.37"/>
<polygon class="f" fill="#00b9ff" points="168.78,114.37 174.08,115.52 169.72,110.55 164.42,109.42"/>
<polygon class="f" fill="#00c8ff" points="164.42,109.42 169.72,110.55 165.37,105.59 160.07,104.47"/>
<polygon class="f" fill="#00d7ff" points="160.07,104.47 165.37,105.59 161.01,100.63 155.71,99.52"/>
<polygon class="f" fill="#00e6ff" points="155.71,99.52 161.01,100.63 156.66,95.67 151.36,94.56"/>
<polygon class="f" fill="#00f6ff" points="151.36,94.56 156.66,95.67 152.30,90.70 147.00,89.61"/>
<polygon class="f" fill="#0000d9" points="230.70,180.03 236.00,181.28 231.64,176.30 226.34,175.07"/>
<polygon class="f" fill="#0000e8" points="226.34,175.07 231.64,176.30 227.29,171.33 221.99,170.10"/>
<polygon class="f" fill="#0000f7" points="221.99,170.10 227.29,171.33 222.93,166.36 217.63,165.14"/>
<polygon class="f" fill="#0008ff" points="217.63,165.14 222.93,166.36 218.58,161.39 213.28,160.18"/>
<polygon class="f" fill="#0017ff" points="213.28,160.18 218.58,161.39 214.22,156.41 208.92,155.22"/>
<polygon class="f" fill="#0026ff" points="208.92,155.22 214.22,156.41 209.87,151.44 204.57,150.25"/>
<polygon class="f" fill="#0035ff" points="204.57,150.25 209.87,151.44 205.51,146.47 200.21,145.29"/>
<polygon class="f" fill="#0044ff" points="200.21,145.29 205.51,146.47 201.16,141.49 195.86,140.33"/>
<polygon class="f" fill="#0054ff" points="195.86,140.33 201.16,141.49 196.80,136.52 191.50,135.37"/>
<polygon class="f" fill="#0063ff" points="191.50,135.37 196.80,136.52 192.44,131.55 187.14,130.40"/>
<polygon class="f" fill="#0072ff" points="187.14,130.40 192.44,131.55 188.09,126.58 182.79,125.44"/>
<polygon class="f" fill="#0081ff" points="182.79,125.44 188.09,126.58 183.73,121.60 178.43,120.48"/>
<polygon class="f" fill="#0091ff" points="178.43,120.48 183.73,121.60 179.38,116.63 174.08,115.52"/>
<polygon class="f" fill="#00a0ff" points="174.08,115.52 179.38,116.63 175.02,111.66 169.72,110.55"/>
<polygon class="f" fill="#00afff" points="169.72,110.55 175.02,111.66 170.67,106.68 165.37,105.59"/>
<polygon class="f" fill="#00beff" points="165.37,105.59 170.67,106.68 166.31,101.71 161.01,100.63"/>
<polygon class="f" fill="#00cdff" points="161.01,100.63 166.31,101.71 161.96,96.74 156.66,95.67"/>
<polygon class="f" fill="#00ddff" points="156.66,95.67 161.96,96.74 157.60,91.77 152.30,90.70"/>
<polygon class="f" fill="#0000bf" points="236.00,181.28 241.30,182.50 236.94,177.52 231.64,176.30"/>
<polygon class="f" fill="#0000ce" points="231.64,176.30 236.94,177.52 232.59,172.53 227.29,171.33"/>
<polygon class="f" fill="#0000dd" points="227.29,171.33 232.59,172.53 228.23,167.55 222.93,166.36"/>
<polygon class="f" fill="#0000ed" points="222.93,166.36 228.23,167.55 223.88,162.57 218.58,161.39"/>
<polygon class="f" fill="#0000fc" points="218.58,161.39 223.88,162.57 219.52,157.58 214.22,156.41"/>
<polygon class="f" fill="#000cff" points="214.22,156.41 219.52,157.58 215.17,152.60 209.87,151.44"/>
<polygon class="f" fill="#001cff" points="209.87,151.44 215.17,152.60 210.81,147.62 205.51,146.47"/>
<polygon class="f" fill="#002bff" points="205.51,146.47 210.81,147.62 206.46,142.63 201.16,141.49"/>
<polygon class="f" fill="#003aff" points="201.16,141.49 206.46,142.63 202.10,137.65 196.80,136.52"/>
<polygon class="f" fill="#004aff" points="196.80,136.52 202.10,137.65 197.74,132.67 192.44,131.55"/>
<polygon class="f" fill="#0059ff" points="192.44,131.55 197.74,132.67 193.39,127.68 188.09,126.58"/>
<polygon class="f" fill="#0068ff" points="188.09,126.58 193.39,127.68 189.03,122.70 183.73,121.60"/>
<polygon class="f" fill="#0077ff" points="183.73,121.60 189.03,122.70 184.68,117.72 179.38,116.63"/>
<polygon class="f" fill="#0087ff" points="179.38,116.63 184.68,117.72 180.32,112.73 175.02,111.66"/>
<polygon class="f" fill="#0096ff" points="175.02,111.66 180.32,112.73 175.97,107.75 170.67,106.68"/>
<polygon class="f" fill="#00a5ff" points="170.67,106.68 175.97,107.75 171.61,102.77 166.31,101.71"/>
<polygon class="f" fill="#00b5ff" points="166.31,101.71 171.61,102.77 167.26,97.78 161.96,96.74"/>
<polygon class="f" fill="#00c4ff" points="161.96,96.74 167.26,97.78 162.90,92.80 157.60,91.77"/>
<line class="a" x1="133.70" y1="264.20" x2="260.90" y2="212.80"/>
<line class="a" x1="133.70" y1="264.20" x2="35.70" y2="197.20"/>
<line class="a" x1="35.70" y1="197.20" x2="35.70" y2="51.90"/>
<line class="a" x1="133.70" y1="264.20" x2="136.75" y2="266.29"/>
<text class="t" x="138.30" y="273.70">1.6</text>
<line class="a" x1="165.50" y1="251.35" x2="168.55" y2="253.44"/>
<text class="t" x="170.10" y="260.85">1.65</text>
<line class="a" x1="197.30" y1="238.50" x2="200.35" y2="240.59"/>
<text class="t" x="201.90" y="248.00">1.7</text>
<line class="a" x1="229.10" y1="225.65" x2="232.15" y2="227.74"/>
<text class="t" x="233.70" y="235.15">1.75</text>
<line class="a" x1="260.90" y1="212.80" x2="263.95" y2="214.89"/>
<text class="t" x="265.50" y="222.30">1.8</text>
<line class="a" x1="133.70" y1="264.20" x2="130.27" y2="265.59"/>
<text class="t" text-anchor="end" x="129.20" y="272.80">0.55</text>
<line class="a" x1="114.10" y1="250.80" x2="110.67" y2="252.19"/>
<text class="t" text-anchor="end" x="109.60" y="259.40">0.6</text>
<line class="a" x1="94.50" y1="237.40" x2="91.07" y2="238.79"/>
<text class="t" text-anchor="end" x="90.00" y="246.00">0.65</text>
<line class="a" x1="74.90" y1="224.00" x2="71.47" y2="225.39"/>
<text class="t" text-anchor="end" x="70.40" y="232.60">0.7</text>
<line class="a" x1="55.30" y1="210.60" x2="51.87" y2="211.99"/>
<text class="t" text-anchor="end" x="50.80" y="219.20">0.75</text>
<line class="a" x1="35.70" y1="197.20" x2="32.27" y2="198.59"/>
<text class="t" text-anchor="end" x="31.20" y="205.80">0.8</text>
<line class="a" x1="35.70" y1="197.20" x2="32.65" y2="195.11"/>
<text class="t" text-anchor="end" x="31.20" y="197.20">0.09</text>
<line class="a" x1="35.70" y1="179.04" x2="32.65" y2="176.95"/>
<text class="t" text-anchor="end" x="31.20" y="179.04">0.1</text>
<line class="a" x1="35.70" y1="160.88" x2="32.65" y2="158.79"/>
<text class="t" text-anchor="end" x="31.20" y="160.88">0.11</text>
<line class="a" x1="35.70" y1="142.71" x2="32.65" y2="140.62"/>
<text class="t" text-anchor="end" x="31.20" y="142.71">0.12</text>
<line class="a" x1="35.70" y1="124.55" x2="32.65" y2="122.46"/>
<text class="t" text-anchor="end" x="31.20" y="124.55">0.13</text>
<line class="a" x1="35.70" y1="106.39" x2="32.65" y2="104.30"/>
<text class="t" text-anchor="end" x="31.20" y="106.39">0.14</text>
<line class="a" x1="35.70" y1="88.22" x2="32.65" y2="86.14"/>
<text class="t" text-anchor="end" x="31.20" y="88.22">0.15</text>
<line class="a" x1="35.70" y1="70.06" x2="32.65" y2="67.97"/>
<text class="t" text-anchor="end" x="31.20" y="70.06">0.16</text>
<line class="a" x1="35.70" y1="51.90" x2="32.65" y2="49.81"/>
<text class="t" text-anchor="end" x="31.20" y="51.90">0.17</text>
<line class="g" x1="425.70" y1="264.20" x2="327.70" y2="197.20"/>
<line class="g" x1="327.70" y1="197.20" x2="327.70" y2="51.90"/>
<line class="g" x1="451.14" y1="253.92" x2="353.14" y2="186.92"/>
<line class="g" x1="353.14" y1="186.92" x2="353.14" y2="41.62"/>
<line class="g" x1="476.58" y1="243.64" x2="378.58" y2="176.64"/>
<line class="g" x1="378.58" y1="176.64" x2="378.58" y2="31.34"/>
<line class="g" x1="502.02" y1="233.36" x2="404.02" y2="166.36"/>
<line class="g" x1="404.02" y1="166.36" x2="404.02" y2="21.06"/>
<line class="g" x1="527.46" y1="223.08" x2="429.46" y2="156.08"/>
<line class="g" x1="429.46" y1="156.08" x2="429.46" y2="10.78"/>
<line class="g" x1="552.90" y1="212.80" x2="454.90" y2="145.80"/>
<line class="g" x1="454.90" y1="145.80" x2="454.90" y2="0.50"/>
<line class="g" x1="425.70" y1="264.20" x2="552.90" y2="212.80"/>
<line class="g" x1="552.90" y1="212.80" x2="552.90" y2="67.50"/>
<line class="g" x1="406.10" y1="250.80" x2="533.30" y2="199.40"/>
<line class="g" x1="533.30" y1="199.40" x2="533.30" y2="54.10"/>
<line class="g" x1="386.50" y1="237.40" x2="513.70" y2="186.00"/>
<line class="g" x1="513.70" y1="186.00" x2="513.70" y2="40.70"/>
<line class="g" x1="366.90" y1="224.00" x2="494.10" y2="172.60"/>
<line class="g" x1="494.10" y1="172.60" x2="494.10" y2="27.30"/>
<line class="g" x1="347.30" y1="210.60" x2="474.50" y2="159.20"/>
<line class="g" x1="474.50" y1="159.20" x2="474.50" y2="13.90"/>
<line class="g" x1="327.70" y1="197.20" x2="454.90" y2="145.80"/>
<line class="g" x1="454.90" y1="145.80" x2="454.90" y2="0.50"/>
<line class="g" x1="327.70" y1="197.20" x2="454.90" y2="145.80"/>
<line class="g" x1="454.90" y1="145.80" x2="552.90" y2="212.80"/>
<line class="g" x1="327.70" y1="176.44" x2="454.90" y2="125.04"/>
<line class="g" x1="454.90" y1="125.04" x2="552.90" y2="192.04"/>
<line class="g" x1="327.70" y1="155.69" x2="454.90" y2="104.29"/>
<line class="g" x1="454.90" y1="104.29" x2="552.90" y2="171.29"/>
<line class="g" x1="327.70" y1="134.93" x2="454.90" y2="83.53"/>
<line class="g" x1="454.90" y1="83.53" x2="552.90" y2="150.53"/>
<line class="g" x1="327.70" y1="114.17" x2="454.90" y2="62.77"/>
<line class="g" x1="454.90" y1="62.77" x2="552.90" y2="129.77"/>
<line class="g" x1="327.70" y1="93.41" x2="454.90" y2="42.01"/>
<line class="g" x1="454.90" y1="42.01" x2="552.90" y2="109.01"/>
<line class="g" x1="327.70" y1="72.66" x2="454.90" y2="21.26"/>
<line class="g" x1="454.90" y1="21.26" x2="552.90" y2="88.26"/>
<line class="g" x1="327.70" y1="51.90" x2="454.90" y2="0.50"/>
<line class="g" x1="454.90" y1="0.50" x2="552.90" y2="67.50"/>
<polygon class="f2" fill="#0000a4" points="406.10,245.75 412.46,235.90 408.10,232.63 401.74,242.58"/>
<polygon class="f2" fill="#0000a5" points="401.74,242.58 408.10,232.63 403.75,229.36 397.39,239.41"/>
<polygon class="f2" fill="#0000a7" points="397.39,239.41 403.75,229.36 399.39,226.09 393.03,236.24"/>
<polygon class="f2" fill="#0000a8" points="393.03,236.24 399.39,226.09 395.04,222.81 388.68,233.07"/>
<polygon class="f2" fill="#0000a9" points="388.68,233.07 395.04,222.81 390.68,219.54 384.32,229.90"/>
<polygon class="f2" fill="#0000ab" points="384.32,229.90 390.68,219.54 386.33,216.27 379.97,226.73"/>
<polygon class="f2" fill="#0000ac" points="379.97,226.73 386.33,216.27 381.97,213.00 375.61,223.56"/>
<polygon class="f2" fill="#0000ad" points="375.61,223.56 381.97,213.00 377.62,209.72 371.26,220.39"/>
<polygon class="f2" fill="#0000af" points="371.26,220.39 377.62,209.72 373.26,206.45 366.90,217.22"/>
<polygon class="f2" fill="#0000b0" points="366.90,217.22 373.26,206.45 368.90,203.18 362.54,214.06"/>
<polygon class="f2" fill="#0000b2" points="362.54,214.06 368.90,203.18 364.55,199.91 358.19,210.89"/>
<polygon class="f2" fill="#0000b3" points="358.19,210.89 364.55,199.91 360.19,196.64 353.83,207.72"/>
<polygon class="f2" fill="#0000b4" points="353.83,207.72 360.19,196.64 355.84,193.36 349.48,204.55"/>
<polygon class="f2" fill="#0000b6" points="349.48,204.55 355.84,193.36 351.48,190.09 345.12,201.38"/>
<polygon class="f2" fill="#0000b7" points="345.12,201.38 351.48,190.09 347.13,186.82 340.77,198.21"/>
<polygon class="f2" fill="#0000b8" points="340.77,198.21 347.13,186.82 342.77,183.55 336.41,195.04"/>
<polygon class="f2" fill="#0000ba" points="336.41,195.04 342.77,183.55 338.42,180.28 332.06,191.87"/>
<polygon class="f2" fill="#0000bb" points="332.06,191.87 338.42,180.28 334.06,177.00 327.70,188.70"/>
<polygon class="f2" fill="#0000d8" points="412.46,235.90 418.82,226.34 414.46,222.96 408.10,232.63"/>
<polygon class="f2" fill="#0000da" points="408.10,232.63 414.46,222.96 410.11,219.59 403.75,229.36"/>
<polygon class="f2" fill="#0000dc" points="403.75,229.36 410.11,219.59 405.75,216.21 399.39,226.09"/>
<polygon class="f2" fill="#0000de" points="399.39,226.09 405.75,216.21 401.40,212.83 395.04,222.81"/>
<polygon class="f2" fill="#0000e1" points="395.04,222.81 401.40,212.83 397.04,209.45 390.68,219.54"/>
<polygon class="f2" fill="#0000e3" points="390.68,219.54 397.04,209.45 392.69,206.08 386.33,216.27"/>
<polygon class="f2" fill="#0000e5" points="386.33,216.27 392.69,206.08 388.33,202.70 381.97,213.00"/>
<polygon class="f2" fill="#0000e7" points="381.97,213.00 388.33,202.70 383.98,199.32 377.62,209.72"/>
<polygon class="f2" fill="#0000e9" points="377.62,209.72 383.98,199.32 379.62,195.95 373.26,206.45"/>
<polygon class="f2" fill="#0000eb" points="373.26,206.45 379.62,195.95 375.26,192.57 368.90,203.18"/>
<polygon class="f2" fill="#0000ed" points="368.90,203.18 375.26,192.57 370.91,189.19 364.55,199.91"/>
<polygon class="f2" fill="#0000ef" points="364.55,199.91 370.91,189.19 366.55,185.82 360.19,196.64"/>
<polygon class="f2" fill="#0000f1" points="360.19,196.64 366.55,185.82 362.20,182.44 355.84,193.36"/>
<polygon class="f2" fill="#0000f4" points="355.84,193.36 362.20,182.44 357.84,179.06 351.48,190.09"/>
<polygon class="f2" fill="#0000f6" points="351.48,190.09 357.84,179.06 353.49,175.68 347.13,186.82"/>
<polygon class="f2" fill="#0000f8" points="347.13,186.82 353.49,175.68 349.13,172.31 342.77,183.55"/>
<polygon class="f2" fill="#0000fa" points="342.77,183.55 349.13,172.31 344.78,168.93 338.42,180.28"/>
<polygon class="f2" fill="#0000fc" points="338.42,180.28 344.78,168.93 340.42,165.55 334.06,177.00"/>
<polygon class="f2" fill="#000bff" points="418.82,226.34 425.18,217.05 420.82,213.57 414.46,222.96"/>
<polygon class="f2" fill="#000eff" points="414.46,222.96 420.82,213.57 416.47,210.09 410.11,219.59"/>
<polygon class="f2" fill="#0011ff" points="410.11,219.59 416.47,210.09 412.11,206.60 405.75,216.21"/>
<polygon class="f2" fill="#0014ff" points="405.75,216.21 412.11,206.60 407.76,203.12 401.40,212.83"/>
<polygon class="f2" fill="#0017ff" points="401.40,212.83 407.76,203.12 403.40,199.64 397.04,209.45"/>
<polygon class="f2" fill="#001aff" points="397.04,209.45 403.40,199.64 399.05,196.15 392.69,206.08"/>
<polygon class="f2" fill="#001cff" points="392.69,206.08 399.05,196.15 394.69,192.67 388.33,202.70"/>
<polygon class="f2" fill="#001fff" points="388.33,202.70 394.69,192.67 390.34,189.19 383.98,199.32"/>
<polygon class="f2" fill="#0022ff" points="383.98,199.32 390.34,189.19 385.98,185.70 379.62,195.95"/>
<polygon class="f2" fill="#0025ff" points="379.62,195.95 385.98,185.70 381.62,182.22 375.26,192.57"/>
<polygon class="f2" fill="#0028ff" points="375.26,192.57 381.62,182.22 377.27,178.74 370.91,189.19"/>
<polygon class="f2" fill="#002bff" points="370.91,189.19 377.27,178.74 372.91,175.25 366.55,185.82"/>
<polygon class="f2" fill="#002eff" points="366.55,185.82 372.91,175.25 368.56,171.77 362.20,182.44"/>
<polygon class="f2" fill="#0031ff" points="362.20,182.44 368.56,171.77 364.20,168.29 357.84,179.06"/>
<polygon class="f2" fill="#0033ff" points="357.84,179.06 364.20,168.29 359.85,164.80 353.49,175.68"/>
<polygon class="f2" fill="#0036ff" points="353.49,175.68 359.85,164.80 355.49,161.32 349.13,172.31"/>
<polygon class="f2" fill="#0039ff" points="349.13,172.31 355.49,161.32 351.14,157.84 344.78,168.93"/>
<polygon class="f2" fill="#003cff" points="344.78,168.93 351.14,157.84 346.78,154.35 340.42,165.55"/>
<polygon class="f2" fill="#003cff" points="425.18,217.05 431.54,208.04 427.18,204.45 420.82,213.57"/>
<polygon class="f2" fill="#003fff" points="420.82,213.57 427.18,204.45 422.83,200.86 416.47,210.09"/>
<polygon class="f2" fill="#0043ff" points="416.47,210.09 422.83,200.86 418.47,197.26 412.11,206.60"/>
<polygon class="f2" fill="#0046ff" points="412.11,206.60 418.47,197.26 414.12,193.67 407.76,203.12"/>
<polygon class="f2" fill="#004aff" points="407.76,203.12 414.12,193.67 409.76,190.08 403.40,199.64"/>
<polygon class="f2" fill="#004eff" points="403.40,199.64 409.76,190.08 405.41,186.49 399.05,196.15"/>
<polygon class="f2" fill="#0051ff" points="399.05,196.15 405.41,186.49 401.05,182.90 394.69,192.67"/>
<polygon class="f2" fill="#0055ff" points="394.69,192.67 401.05,182.90 396.70,179.31 390.34,189.19"/>
<polygon class="f2" fill="#0059ff" points="390.34,189.19 396.70,179.31 392.34,175.72 385.98,185.70"/>
<polygon class="f2" fill="#005cff" points="385.98,185.70 392.34,175.72 387.98,172.13 381.62,182.22"/>
<polygon class="f2" fill="#0060ff" points="381.62,182.22 387.98,172.13 383.63,168.53 377.27,178.74"/>
<polygon class="f2" fill="#0063ff" points="377.27,178.74 383.63,168.53 379.27,164.94 372.91,175.25"/>
<polygon class="f2" fill="#0067ff" points="372.91,175.25 379.27,164.94 374.92,161.35 368.56,171.77"/>
<polygon class="f2" fill="#006bff" points="368.56,171.77 374.92,161.35 370.56,157.76 364.20,168.29"/>
<polygon class="f2" fill="#006eff" points="364.20,168.29 370.56,157.76 366.21,154.17 359.85,164.80"/>
<polygon class="f2" fill="#0072ff" points="359.85,164.80 366.21,154.17 361.85,150.58 355.49,161.32"/>
<polygon class="f2" fill="#0076ff" points="355.49,161.32 361.85,150.58 357.50,146.99 351.14,157.84"/>
<polygon class="f2" fill="#0079ff" points="351.14,157.84 357.50,146.99 353.14,143.40 346.78,154.35"/>
<polygon class="f2" fill="#006aff" points="431.54,208.04 437.90,199.28 433.54,195.58 427.18,204.45"/>
<polygon class="f2" fill="#006eff" points="427.18,204.45 433.54,195.58 429.19,191.88 422.83,200.86"/>
<polygon class="f2" fill="#0073ff" points="422.83,200.86 429.19,191.88 424.83,188.18 418.47,197.26"/>
<polygon class="f2" fill="#0077ff" points="418.47,197.26 424.83,188.18 420.48,184.48 414.12,193.67"/>
<polygon class="f2" fill="#007bff" points="414.12,193.67 420.48,184.48 416.12,180.78 409.76,190.08"/>
<polygon class="f2" fill="#0080ff" points="409.76,190.08 416.12,180.78 411.77,177.08 405.41,186.49"/>
<polygon class="f2" fill="#0084ff" points="405.41,186.49 411.77,177.08 407.41,173.38 401.05,182.90"/>
<polygon class="f2" fill="#0089ff" points="401.05,182.90 407.41,173.38 403.06,169.68 396.70,179.31"/>
<polygon class="f2" fill="#008dff" points="396.70,179.31 403.06,169.68 398.70,165.98 392.34,175.72"/>
<polygon class="f2" fill="#0091ff" points="392.34,175.72 398.70,165.98 394.34,162.28 387.98,172.13"/>
<polygon class="f2" fill="#0096ff" points="387.98,172.13 394.34,162.28 389.99,158.58 383.63,168.53"/>
<polygon class="f2" fill="#009aff" points="383.63,168.53 389.99,158.58 385.63,154.88 379.27,164.94"/>
<polygon class="f2" fill="#009fff" points="379.27,164.94 385.63,154.88 381.28,151.19 374.92,161.35"/>
<polygon class="f2" fill="#00a3ff" points="374.92,161.35 381.28,151.19 376.92,147.49 370.56,157.76"/>
<polygon class="f2" fill="#00a8ff" points="370.56,157.76 376.92,147.49 372.57,143.79 366.21,154.17"/>
<polygon class="f2" fill="#00acff" points="366.21,154.17 372.57,143.79 368.21,140.09 361.85,150.58"/>
<polygon class="f2" fill="#00b0ff" points="361.85,150.58 368.21,140.09 363.86,136.39 357.50,146.99"/>
<polygon class="f2" fill="#00b5ff" points="357.50,146.99 363.86,136.39 359.50,132.69 353.14,143.40"/>
<polygon class="f2" fill="#0096ff" points="437.90,199.28 444.26,190.77 439.90,186.96 433.54,195.58"/>
<polygon class="f2" fill="#009bff" points="433.54,195.58 439.90,186.96 435.55,183.15 429.19,191.88"/>
<polygon class="f2" fill="#00a1ff" points="429.19,191.88 435.55,183.15 431.19,179.35 424.83,188.18"/>
<polygon class="f2" fill="#00a6ff" points="424.83,188.18 431.19,179.35 426.84,175.54 420.48,184.48"/>
<polygon class="f2" fill="#00abff" points="420.48,184.48 426.84,175.54 422.48,171.73 416.12,180.78"/>
<polygon class="f2" fill="#00b0ff" points="416.12,180.78 422.48,171.73 418.13,167.92 411.77,177.08"/>
<polygon class="f2" fill="#00b5ff" points="411.77,177.08 418.13,167.92 413.77,164.11 407.41,173.38"/>
<polygon class="f2" fill="#00bbff" points="407.41,173.38 413.77,164.11 409.42,160.31 403.06,169.68"/>
<polygon class="f2" fill="#00c0ff" points="403.06,169.68 409.42,160.31 405.06,156.50 398.70,165.98"/>
<polygon class="f2" fill="#00c5ff" points="398.70,165.98 405.06,156.50 400.70,152.69 394.34,162.28"/>
<polygon class="f2" fill="#00caff" points="394.34,162.28 400.70,152.69 396.35,148.88 389.99,158.58"/>
<polygon class="f2" fill="#00cfff" points="389.99,158.58 396.35,148.88 391.99,145.07 385.63,154.88"/>
<polygon class="f2" fill="#00d4ff" points="385.63,154.88 391.99,145.07 387.64,141.27 381.28,151.19"/>
<polygon class="f2" fill="#00daff" points="381.28,151.19 387.64,141.27 383.28,137.46 376.92,147.49"/>
<polygon class="f2" fill="#00dfff" points="376.92,147.49 383.28,137.46 378.93,133.65 372.57,143.79"/>
<polygon class="f2" fill="#00e4ff" points="372.57,143.79 378.93,133.65 374.57,129.84 368.21,140.09"/>
<polygon class="f2" fill="#00e9ff" points="368.21,140.09 374.57,129.84 370.22,126.03 363.86,136.39"/>
<polygon class="f2" fill="#00eeff" points="363.86,136.39 370.22,126.03 365.86,122.23 359.50,132.69"/>
<polygon class="f2" fill="#00c1ff" points="444.26,190.77 450.62,182.50 446.26,178.58 439.90,186.96"/>
<polygon class="f2" fill="#00c7ff" points="439.90,186.96 446.26,178.58 441.91,174.67 435.55,183.15"/>
<polygon class="f2" fill="#00cdff" points="435.55,183.15 441.91,174.67 437.55,170.75 431.19,179.35"/>
<polygon class="f2" fill="#00d3ff" points="431.19,179.35 437.55,170.75 433.20,166.84 426.84,175.54"/>
<polygon class="f2" fill="#00d9ff" points="426.84,175.54 433.20,166.84 428.84,162.92 422.48,171.73"/>
<polygon class="f2" fill="#00dfff" points="422.48,171.73 428.84,162.92 424.49,159.00 418.13,167.92"/>
<polygon class="f2" fill="#00e5ff" points="418.13,167.92 424.49,159.00 420.13,155.09 413.77,164.11"/>
<polygon class="f2" fill="#00ebff" points="413.77,164.11 420.13,155.09 415.78,151.17 409.42,160.31"/>
<polygon class="f2" fill="#00f1ff" points="409.42,160.31 415.78,151.17 411.42,147.26 405.06,156.50"/>
<polygon class="f2" fill="#00f7ff" points="405.06,156.50 411.42,147.26 407.06,143.34 400.70,152.69"/>
<polygon class="f2" fill="#00fdff" points="400.70,152.69 407.06,143.34 402.71,139.42 396.35,148.88"/>
<polygon class="f2" fill="#04fffb" points="396.35,148.88 402.71,139.42 398.35,135.51 391.99,145.07"/>
<polygon class="f2" fill="#09fff6" points="391.99,145.07 398.35,135.51 394.00,131.59 387.64,141.27"/>
<polygon class="f2" fill="#0ffff0" points="387.64,141.27 394.00,131.59 389.64,127.68 383.28,137.46"/>
<polygon class="f2" fill="#15ffea" points="383.28,137.46 389.64,127.68 385.29,123.76 378.93,133.65"/>
<polygon class="f2" fill="#1bffe4" points="378.93,133.65 385.29,123.76 380.93,119.84 374.57,129.84"/>
<polygon class="f2" fill="#21ffde" points="374.57,129.84 380.93,119.84 376.58,115.93 370.22,126.03"/>
<polygon class="f2" fill="#27ffd8" points="370.22,126.03 376.58,115.93 372.22,112.01 365.86,122.23"/>
<polygon class="f2" fill="#00eaff" points="450.62,182.50 456.98,174.46 452.62,170.44 446.26,178.58"/>
<polygon class="f2" fill="#00f1ff" points="446.26,178.58 452.62,170.44 448.27,166.42 441.91,174.67"/>
<polygon class="f2" fill="#00f7ff" points="441.91,174.67 448.27,166.42 443.91,162.39 437.55,170.75"/>
<polygon class="f2" fill="#00feff" points="437.55,170.75 443.91,162.39 439.56,158.37 433.20,166.84"/>
<polygon class="f2" fill="#06fff9" points="433.20,166.84 439.56,158.37 435.20,154.35 428.84,162.92"/>
<polygon class="f2" fill="#0dfff2" points="428.84,162.92 435.20,154.35 430.85,150.32 424.49,159.00"/>
<polygon class="f2" fill="#13ffec" points="424.49,159.00 430.85,150.32 426.49,146.30 420.13,155.09"/>
<polygon class="f2" fill="#1affe5" points="420.13,155.09 426.49,146.30 422.14,142.28 415.78,151.17"/>
<polygon class="f2" fill="#21ffde" points="415.78,151.17 422.14,142.28 417.78,138.25 411.42,147.26"/>
<polygon class="f2" fill="#28ffd7" points="411.42,147.26 417.78,138.25 413.42,134.23 407.06,143.34"/>
<polygon class="f2" fill="#2effd1" points="407.06,143.34 413.42,134.23 409.07,130.21 402.71,139.42"/>
<polygon class="f2" fill="#35ffca" points="402.71,139.42 409.07,130.21 404.71,126.18 398.35,135.51"/>
<polygon class="f2" fill="#3cffc3" points="398.35,135.51 404.71,126.18 400.36,122.16 394.00,131.59"/>
<polygon class="f2" fill="#42ffbd" points="394.00,131.59 400.36,122.16 396.00,118.14 389.64,127.68"/>
<polygon class="f2" fill="#49ffb6" points="389.64,127.68 396.00,118.14 391.65,114.11 385.29,123.76"/>
<polygon class="f2" fill="#50ffaf" points="385.29,123.76 391.65,114.11 387.29,110.09 380.93,119.84"/>
<polygon class="f2" fill="#57ffa8" points="380.93,119.84 387.29,110.09 382.94,106.07 376.58,115.93"/>
<polygon class="f2" fill="#5dffa2" points="376.58,115.93 382.94,106.07 378.58,102.04 372.22,112.01"/>
<polygon class="f2" fill="#12ffed" points="456.98,174.46 463.34,166.64 458.98,162.52 452.62,170.44"/>
<polygon class="f2" fill="#1affe5" points="452.62,170.44 458.98,162.52 454.63,158.39 448.27,166.42"/>
<polygon class="f2" fill="#21ffde" points="448.27,166.42 454.63,158.39 450.27,154.26 443.91,162.39"/>
<polygon class="f2" fill="#29ffd6" points="443.91,162.39 450.27,154.26 445.92,150.13 439.56,158.37"/>
<polygon class="f2" fill="#30ffcf" points="439.56,158.37 445.92,150.13 441.56,146.00 435.20,154.35"/>
<polygon class="f2" fill="#38ffc7" points="435.20,154.35 441.56,146.00 437.21,141.87 430.85,150.32"/>
<polygon class="f2" fill="#3fffc0" points="430.85,150.32 437.21,141.87 432.85,137.74 426.49,146.30"/>
<polygon class="f2" fill="#47ffb8" points="426.49,146.30 432.85,137.74 428.50,133.61 422.14,142.28"/>
<polygon class="f2" fill="#4effb1" points="422.14,142.28 428.50,133.61 424.14,129.48 417.78,138.25"/>
<polygon class="f2" fill="#56ffa9" points="417.78,138.25 424.14,129.48 419.78,125.35 413.42,134.23"/>
<polygon class="f2" fill="#5dffa2" points="413.42,134.23 419.78,125.35 415.43,121.23 409.07,130.21"/>
<polygon class="f2" fill="#65ff9a" points="409.07,130.21 415.43,121.23 411.07,117.10 404.71,126.18"/>
<polygon class="f2" fill="#6cff93" points="404.71,126.18 411.07,117.10 406.72,112.97 400.36,122.16"/>
<polygon class="f2" fill="#74ff8b" points="400.36,122.16 406.72,112.97 402.36,108.84 396.00,118.14"/>
<polygon class="f2" fill="#7bff84" points="396.00,118.14 402.36,108.84 398.01,104.71 391.65,114.11"/>
<polygon class="f2" fill="#83ff7c" points="391.65,114.11 398.01,104.71 393.65,100.58 387.29,110.09"/>
<polygon class="f2" fill="#8aff75" points="387.29,110.09 393.65,100.58 389.30,96.45 382.94,106.07"/>
<polygon class="f2" fill="#92ff6d" points="382.94,106.07 389.30,96.45 384.94,92.32 378.58,102.04"/>
<polygon class="f2" fill="#38ffc7" points="463.34,166.64 469.70,159.04 465.34,154.80 458.98,162.52"/>
<polygon class="f2" fill="#40ffbf" points="458.98,162.52 465.34,154.80 460.99,150.57 454.63,158.39"/>
<polygon class="f2" fill="#48ffb7" points="454.63,158.39 460.99,150.57 456.63,146.34 450.27,154.26"/>
<polygon class="f2" fill="#51ffae" points="450.27,154.26 456.63,146.34 452.28,142.11 445.92,150.13"/>
<polygon class="f2" fill="#59ffa6" points="445.92,150.13 452.28,142.11 447.92,137.87 441.56,146.00"/>
<polygon class="f2" fill="#61ff9e" points="441.56,146.00 447.92,137.87 443.57,133.64 437.21,141.87"/>
<polygon class="f2" fill="#69ff96" points="437.21,141.87 443.57,133.64 439.21,129.41 432.85,137.74"/>
<polygon class="f2" fill="#72ff8d" points="432.85,137.74 439.21,129.41 434.86,125.18 428.50,133.61"/>
<polygon class="f2" fill="#7aff85" points="428.50,133.61 434.86,125.18 430.50,120.94 424.14,129.48"/>
<polygon class="f2" fill="#82ff7d" points="424.14,129.48 430.50,120.94 426.14,116.71 419.78,125.35"/>
<polygon class="f2" fill="#8bff74" points="419.78,125.35 426.14,116.71 421.79,112.48 415.43,121.23"/>
<polygon class="f2" fill="#93ff6c" points="415.43,121.23 421.79,112.48 417.43,108.25 411.07,117.10"/>
<polygon class="f2" fill="#9bff64" points="411.07,117.10 417.43,108.25 413.08,104.01 406.72,112.97"/>
<polygon class="f2" fill="#a3ff5c" points="406.72,112.97 413.08,104.01 408.72,99.78 402.36,108.84"/>
<polygon class="f2" fill="#acff53" points="402.36,108.84 408.72,99.78 404.37,95.55 398.01,104.71"/>
<polygon class="f2" fill="#b4ff4b" points="398.01,104.71 404.37,95.55 400.01,91.32 393.65,100.58"/>
<polygon class="f2" fill="#bcff43" points="393.65,100.58 400.01,91.32 395.66,87.08 389.30,96.45"/>
<polygon class="f2" fill="#c4ff3b" points="389.30,96.45 395.66,87.08 391.30,82.85 384.94,92.32"/>
<polygon class="f2" fill="#5cffa3" points="469.70,159.04 476.06,151.63 471.70,147.30 465.34,154.80"/>
<polygon class="f2" fill="#65ff9a" points="465.34,154.80 471.70,147.30 467.35,142.97 460.99,150.57"/>
<polygon class="f2" fill="#6eff91" points="460.99,150.57 467.35,142.97 462.99,138.63 456.63,146.34"/>
<polygon class="f2" fill="#77ff88" points="456.63,146.34 462.99,138.63 458.64,134.30 452.28,142.11"/>
<polygon class="f2" fill="#80ff7f" points="452.28,142.11 458.64,134.30 454.28,129.96 447.92,137.87"/>
<polygon class="f2" fill="#89ff76" points="447.92,137.87 454.28,129.96 449.93,125.63 443.57,133.64"/>
<polygon class="f2" fill="#92ff6d" points="443.57,133.64 449.93,125.63 445.57,121.30 439.21,129.41"/>
<polygon class="f2" fill="#9bff64" points="439.21,129.41 445.57,121.30 441.22,116.96 434.86,125.18"/>
<polygon class="f2" fill="#a4ff5b" points="434.86,125.18 441.22,116.96 436.86,112.63 430.50,120.94"/>
<polygon class="f2" fill="#adff52" points="430.50,120.94 436.86,112.63 432.50,108.29 426.14,116.71"/>
<polygon class="f2" fill="#b6ff49" points="426.14,116.71 432.50,108.29 428.15,103.96 421.79,112.48"/>
<polygon class="f2" fill="#bfff40" points="421.79,112.48 428.15,103.96 423.79,99.63 417.43,108.25"/>
<polygon class="f2" fill="#c8ff37" points="417.43,108.25 423.79,99.63 419.44,95.29 413.08,104.01"/>
<polygon class="f2" fill="#d1ff2e" points="413.08,104.01 419.44,95.29 415.08,90.96 408.72,99.78"/>
<polygon class="f2" fill="#daff25" points="408.72,99.78 415.08,90.96 410.73,86.63 404.37,95.55"/>
<polygon class="f2" fill="#e3ff1c" points="404.37,95.55 410.73,86.63 406.37,82.29 400.01,91.32"/>
<polygon class="f2" fill="#ecff13" points="400.01,91.32 406.37,82.29 402.02,77.96 395.66,87.08"/>
<polygon class="f2" fill="#f5ff0a" points="395.66,87.08 402.02,77.96 397.66,73.62 391.30,82.85"/>
<polygon class="f2" fill="#7fff80" points="476.06,151.63 482.42,144.42 478.06,139.99 471.70,147.30"/>
<polygon class="f2" fill="#88ff77" points="471.70,147.30 478.06,139.99 473.71,135.56 467.35,142.97"/>
<polygon class="f2" fill="#92ff6d" points="467.35,142.97 473.71,135.56 469.35,131.13 462.99,138.63"/>
<polygon class="f2" fill="#9cff63" points="462.99,138.63 469.35,131.13 465.00,126.69 458.64,134.30"/>
<polygon class="f2" fill="#a6ff59" points="458.64,134.30 465.00,126.69 460.64,122.26 454.28,129.96"/>
<polygon class="f2" fill="#afff50" points="454.28,129.96 460.64,122.26 456.29,117.83 449.93,125.63"/>
<polygon class="f2" fill="#b9ff46" points="449.93,125.63 456.29,117.83 451.93,113.40 445.57,121.30"/>
<polygon class="f2" fill="#c3ff3c" points="445.57,121.30 451.93,113.40 447.58,108.97 441.22,116.96"/>
<polygon class="f2" fill="#cdff32" points="441.22,116.96 447.58,108.97 443.22,104.53 436.86,112.63"/>
<polygon class="f2" fill="#d6ff29" points="436.86,112.63 443.22,104.53 438.86,100.10 432.50,108.29"/>
<polygon class="f2" fill="#e0ff1f" points="432.50,108.29 438.86,100.10 434.51,95.67 428.15,103.96"/>
<polygon class="f2" fill="#eaff15" points="428.15,103.96 434.51,95.67 430.15,91.24 423.79,99.63"/>
<polygon class="f2" fill="#f4ff0b" points="423.79,99.63 430.15,91.24 425.80,86.80 419.44,95.29"/>
<polygon class="f2" fill="#fdff02" points="419.44,95.29 425.80,86.80 421.44,82.37 415.08,90.96"/>
<polygon class="f2" fill="#fff700" points="415.08,90.96 421.44,82.37 417.09,77.94 410.73,86.63"/>
<polygon class="f2" fill="#ffed00" points="410.73,86.63 417.09,77.94 412.73,73.51 406.37,82.29"/>
<polygon class="f2" fill="#ffe300" points="406.37,82.29 412.73,73.51 408.38,69.08 402.02,77.96"/>
<polygon class="f2" fill="#ffda00" points="402.02,77.96 408.38,69.08 404.02,64.64 397.66,73.62"/>
<polygon class="f2" fill="#a0ff5f" points="482.42,144.42 488.78,137.39 484.42,132.87 478.06,139.99"/>
<polygon class="f2" fill="#abff54" points="478.06,139.99 484.42,132.87 480.07,128.34 473.71,135.56"/>
<polygon class="f2" fill="#b5ff4a" points="473.71,135.56 480.07,128.34 475.71,123.81 469.35,131.13"/>
<polygon class="f2" fill="#bfff40" points="469.35,131.13 475.71,123.81 471.36,119.29 465.00,126.69"/>
<polygon class="f2" fill="#caff35" points="465.00,126.69 471.36,119.29 467.00,114.76 460.64,122.26"/>
<polygon class="f2" fill="#d4ff2b" points="460.64,122.26 467.00,114.76 462.65,110.23 456.29,117.83"/>
<polygon class="f2" fill="#dfff20" points="456.29,117.83 462.65,110.23 458.29,105.71 451.93,113.40"/>
<polygon class="f2" fill="#e9ff16" points="451.93,113.40 458.29,105.71 453.94,101.18 447.58,108.97"/>
<polygon class="f2" fill="#f4ff0b" points="447.58,108.97 453.94,101.18 449.58,96.65 443.22,104.53"/>
<polygon class="f2" fill="#feff01" points="443.22,104.53 449.58,96.65 445.22,92.13 438.86,100.10"/>
<polygon class="f2" fill="#fff500" points="438.86,100.10 445.22,92.13 440.87,87.60 434.51,95.67"/>
<polygon class="f2" fill="#ffeb00" points="434.51,95.67 440.87,87.60 436.51,83.07 430.15,91.24"/>
<polygon class="f2" fill="#ffe100" points="430.15,91.24 436.51,83.07 432.16,78.55 425.80,86.80"/>
<polygon class="f2" fill="#ffd600" points="425.80,86.80 432.16,78.55 427.80,74.02 421.44,82.37"/>
<polygon class="f2" fill="#ffcc00" points="421.44,82.37 427.80,74.02 423.45,69.49 417.09,77.94"/>
<polygon class="f2" fill="#ffc100" points="417.09,77.94 423.45,69.49 419.09,64.97 412.73,73.51"/>
<polygon class="f2" fill="#ffb700" points="412.73,73.51 419.09,64.97 414.74,60.44 408.38,69.08"/>
<polygon class="f2" fill="#ffac00" points="408.38,69.08 414.74,60.44 410.38,55.91 404.02,64.64"/>
<polygon class="f2" fill="#c0ff3f" points="488.78,137.39 495.14,130.54 490.78,125.92 484.42,132.87"/>
<polygon class="f2" fill="#cbff34" points="484.42,132.87 490.78,125.92 486.43,121.31 480.07,128.34"/>
<polygon class="f2" fill="#d6ff29" points="480.07,128.34 486.43,121.31 482.07,116.69 475.71,123.81"/>
<polygon class="f2" fill="#e1ff1e" points="475.71,123.81 482.07,116.69 477.72,112.07 471.36,119.29"/>
<polygon class="f2" fill="#edff12" points="471.36,119.29 477.72,112.07 473.36,107.45 467.00,114.76"/>
<polygon class="f2" fill="#f8ff07" points="467.00,114.76 473.36,107.45 469.01,102.84 462.65,110.23"/>
<polygon class="f2" fill="#fffb00" points="462.65,110.23 469.01,102.84 464.65,98.22 458.29,105.71"/>
<polygon class="f2" fill="#fff000" points="458.29,105.71 464.65,98.22 460.30,93.60 453.94,101.18"/>
<polygon class="f2" fill="#ffe500" points="453.94,101.18 460.30,93.60 455.94,88.98 449.58,96.65"/>
<polygon class="f2" fill="#ffda00" points="449.58,96.65 455.94,88.98 451.58,84.37 445.22,92.13"/>
<polygon class="f2" fill="#ffcf00" points="445.22,92.13 451.58,84.37 447.23,79.75 440.87,87.60"/>
<polygon class="f2" fill="#ffc300" points="440.87,87.60 447.23,79.75 442.87,75.13 436.51,83.07"/>
<polygon class="f2" fill="#ffb800" points="436.51,83.07 442.87,75.13 438.52,70.51 432.16,78.55"/>
<polygon class="f2" fill="#ffad00" points="432.16,78.55 438.52,70.51 434.16,65.90 427.80,74.02"/>
<polygon class="f2" fill="#ffa200" points="427.80,74.02 434.16,65.90 429.81,61.28 423.45,69.49"/>
<polygon class="f2" fill="#ff9700" points="423.45,69.49 429.81,61.28 425.45,56.66 419.09,64.97"/>
<polygon class="f2" fill="#ff8c00" points="419.09,64.97 425.45,56.66 421.10,52.04 414.74,60.44"/>
<polygon class="f2" fill="#ff8100" points="414.74,60.44 421.10,52.04 416.74,47.43 410.38,55.91"/>
<polygon class="f2" fill="#dfff20" points="495.14,130.54 501.50,123.85 497.14,119.15 490.78,125.92"/>
<polygon class="f2" fill="#ebff14" points="490.78,125.92 497.14,119.15 492.79,114.44 486.43,121.31"/>
<polygon class="f2" fill="#f6ff09" points="486.43,121.31 492.79,114.44 488.43,109.74 482.07,116.69"/>
<polygon class="f2" fill="#fffc00" points="482.07,116.69 488.43,109.74 484.08,105.04 477.72,112.07"/>
<polygon class="f2" fill="#fff000" points="477.72,112.07 484.08,105.04 479.72,100.33 473.36,107.45"/>
<polygon class="f2" fill="#ffe400" points="473.36,107.45 479.72,100.33 475.37,95.63 469.01,102.84"/>
<polygon class="f2" fill="#ffd800" points="469.01,102.84 475.37,95.63 471.01,90.93 464.65,98.22"/>
<polygon class="f2" fill="#ffcd00" points="464.65,98.22 471.01,90.93 466.66,86.22 460.30,93.60"/>
<polygon class="f2" fill="#ffc100" points="460.30,93.60 466.66,86.22 462.30,81.52 455.94,88.98"/>
<polygon class="f2" fill="#ffb500" points="455.94,88.98 462.30,81.52 457.94,76.82 451.58,84.37"/>
<polygon class="f2" fill="#ffa900" points="451.58,84.37 457.94,76.82 453.59,72.11 447.23,79.75"/>
<polygon class="f2" fill="#ff9e00" points="447.23,79.75 453.59,72.11 449.23,67.41 442.87,75.13"/>
<polygon class="f2" fill="#ff9200" points="442.87,75.13 449.23,67.41 444.88,62.71 438.52,70.51"/>
<polygon class="f2" fill="#ff8600" points="438.52,70.51 444.88,62.71 440.52,58.00 434.16,65.90"/>
<polygon class="f2" fill="#ff7a00" points="434.16,65.90 440.52,58.00 436.17,53.30 429.81,61.28"/>
<polygon class="f2" fill="#ff6e00" points="429.81,61.28 436.17,53.30 431.81,48.59 425.45,56.66"/>
<polygon class="f2" fill="#ff6300" points="425.45,56.66 431.81,48.59 427.46,43.89 421.10,52.04"/>
<polygon class="f2" fill="#ff5700" points="421.10,52.04 427.46,43.89 423.10,39.19 416.74,47.43"/>
<polygon class="f2" fill="#fcff03" points="501.50,123.85 507.86,117.32 503.50,112.53 497.14,119.15"/>
<polygon class="f2" fill="#fff500" points="497.14,119.15 503.50,112.53 499.15,107.75 492.79,114.44"/>
<polygon class="f2" fill="#ffe900" points="492.79,114.44 499.15,107.75 494.79,102.96 488.43,109.74"/>
<polygon class="f2" fill="#ffdc00" points="488.43,109.74 494.79,102.96 490.44,98.18 484.08,105.04"/>
<polygon class="f2" fill="#ffd000" points="484.08,105.04 490.44,98.18 486.08,93.40 479.72,100.33"/>
<polygon class="f2" fill="#ffc400" points="479.72,100.33 486.08,93.40 481.73,88.61 475.37,95.63"/>
<polygon class="f2" fill="#ffb700" points="475.37,95.63 481.73,88.61 477.37,83.83 471.01,90.93"/>
<polygon class="f2" fill="#ffab00" points="471.01,90.93 477.37,83.83 473.02,79.04 466.66,86.22"/>
<polygon class="f2" fill="#ff9e00" points="466.66,86.22 473.02,79.04 468.66,74.26 462.30,81.52"/>
<polygon class="f2" fill="#ff9200" points="462.30,81.52 468.66,74.26 464.30,69.47 457.94,76.82"/>
<polygon class="f2" fill="#ff8600" points="457.94,76.82 464.30,69.47 459.95,64.69 453.59,72.11"/>
<polygon class="f2" fill="#ff7900" points="453.59,72.11 459.95,64.69 455.59,59.90 449.23,67.41"/>
<polygon class="f2" fill="#ff6d00" points="449.23,67.41 455.59,59.90 451.24,55.12 444.88,62.71"/>
<polygon class="f2" fill="#ff6000" points="444.88,62.71 451.24,55.12 446.88,50.33 440.52,58.00"/>
<polygon class="f2" fill="#ff5400" points="440.52,58.00 446.88,50.33 442.53,45.55 436.17,53.30"/>
<polygon class="f2" fill="#ff4800" points="436.17,53.30 442.53,45.55 438.17,40.77 431.81,48.59"/>
<polygon class="f2" fill="#ff3b00" points="431.81,48.59 438.17,40.77 433.82,35.98 427.46,43.89"/>
<polygon class="f2" fill="#ff2f00" points="427.46,43.89 433.82,35.98 429.46,31.20 423.10,39.19"/>
<polygon class="f2" fill="#ffe500" points="507.86,117.32 514.22,110.93 509.86,106.07 503.50,112.53"/>
<polygon class="f2" fill="#ffd800" points="503.50,112.53 509.86,106.07 505.51,101.21 499.15,107.75"/>
<polygon class="f2" fill="#ffcb00" points="499.15,107.75 505.51,101.21 501.15,96.35 494.79,102.96"/>
<polygon class="f2" fill="#ffbe00" points="494.79,102.96 501.15,96.35 496.80,91.49 490.44,98.18"/>
<polygon class="f2" fill="#ffb100" points="490.44,98.18 496.80,91.49 492.44,86.63 486.08,93.40"/>
<polygon class="f2" fill="#ffa400" points="486.08,93.40 492.44,86.63 488.09,81.77 481.73,88.61"/>
<polygon class="f2" fill="#ff9700" points="481.73,88.61 488.09,81.77 483.73,76.91 477.37,83.83"/>
<polygon class="f2" fill="#ff8a00" points="477.37,83.83 483.73,76.91 479.38,72.05 473.02,79.04"/>
<polygon class="f2" fill="#ff7d00" points="473.02,79.04 479.38,72.05 475.02,67.19 468.66,74.26"/>
<polygon class="f2" fill="#ff7000" points="468.66,74.26 475.02,67.19 470.66,62.33 464.30,69.47"/>
<polygon class="f2" fill="#ff6300" points="464.30,69.47 470.66,62.33 466.31,57.47 459.95,64.69"/>
<polygon class="f2" fill="#ff5600" points="459.95,64.69 466.31,57.47 461.95,52.61 455.59,59.90"/>
<polygon class="f2" fill="#ff4900" points="455.59,59.90 461.95,52.61 457.60,47.75 451.24,55.12"/>
<polygon class="f2" fill="#ff3c00" points="451.24,55.12 457.60,47.75 453.24,42.89 446.88,50.33"/>
<polygon class="f2" fill="#ff2f00" points="446.88,50.33 453.24,42.89 448.89,38.03 442.53,45.55"/>
<polygon class="f2" fill="#ff2200" points="442.53,45.55 448.89,38.03 444.53,33.17 438.17,40.77"/>
<polygon class="f2" fill="#ff1500" points="438.17,40.77 444.53,33.17 440.18,28.31 433.82,35.98"/>
<polygon class="f2" fill="#ff0800" points="433.82,35.98 440.18,28.31 435.82,23.45 429.46,31.20"/>
<polygon class="f2" fill="#ffca00" points="514.22,110.93 520.58,104.68 516.22,99.75 509.86,106.07"/>
<polygon class="f2" fill="#ffbc00" points="509.86,106.07 516.22,99.75 511.87,94.82 505.51,101.21"/>
<polygon class="f2" fill="#ffaf00" points="505.51,101.21 511.87,94.82 507.51,89.89 501.15,96.35"/>
<polygon class="f2" fill="#ffa100" points="501.15,96.35 507.51,89.89 503.16,84.96 496.80,91.49"/>
<polygon class="f2" fill="#ff9400" points="496.80,91.49 503.16,84.96 498.80,80.03 492.44,86.63"/>
<polygon class="f2" fill="#ff8600" points="492.44,86.63 498.80,80.03 494.45,75.10 488.09,81.77"/>
<polygon class="f2" fill="#ff7900" points="488.09,81.77 494.45,75.10 490.09,70.18 483.73,76.91"/>
<polygon class="f2" fill="#ff6b00" points="483.73,76.91 490.09,70.18 485.74,65.25 479.38,72.05"/>
<polygon class="f2" fill="#ff5d00" points="479.38,72.05 485.74,65.25 481.38,60.32 475.02,67.19"/>
<polygon class="f2" fill="#ff5000" points="475.02,67.19 481.38,60.32 477.02,55.39 470.66,62.33"/>
<polygon class="f2" fill="#ff4200" points="470.66,62.33 477.02,55.39 472.67,50.46 466.31,57.47"/>
<polygon class="f2" fill="#ff3500" points="466.31,57.47 472.67,50.46 468.31,45.53 461.95,52.61"/>
<polygon class="f2" fill="#ff2700" points="461.95,52.61 468.31,45.53 463.96,40.60 457.60,47.75"/>
<polygon class="f2" fill="#ff1a00" points="457.60,47.75 463.96,40.60 459.60,35.67 453.24,42.89"/>
<polygon class="f2" fill="#ff0c00" points="453.24,42.89 459.60,35.67 455.25,30.74 448.89,38.03"/>
<polygon class="f2" fill="#fe0000" points="448.89,38.03 455.25,30.74 450.89,25.81 444.53,33.17"/>
<polygon class="f2" fill="#f00000" points="444.53,33.17 450.89,25.81 446.54,20.88 440.18,28.31"/>
<polygon class="f2" fill="#e30000" points="440.18,28.31 446.54,20.88 442.18,15.95 435.82,23.45"/>
<polygon class="f2" fill="#ffaf00" points="520.58,104.68 526.94,98.56 522.58,93.56 516.22,99.75"/>
<polygon class="f2" fill="#ffa100" points="516.22,99.75 522.58,93.56 518.23,88.57 511.87,94.82"/>
<polygon class="f2" fill="#ff9300" points="511.87,94.82 518.23,88.57 513.87,83.58 507.51,89.89"/>
<polygon class="f2" fill="#ff8500" points="507.51,89.89 513.87,83.58 509.52,78.59 503.16,84.96"/>
<polygon class="f2" fill="#ff7700" points="503.16,84.96 509.52,78.59 505.16,73.60 498.80,80.03"/>
<polygon class="f2" fill="#ff6900" points="498.80,80.03 505.16,73.60 500.81,68.61 494.45,75.10"/>
<polygon class="f2" fill="#ff5b00" points="494.45,75.10 500.81,68.61 496.45,63.61 490.09,70.18"/>
<polygon class="f2" fill="#ff4d00" points="490.09,70.18 496.45,63.61 492.10,58.62 485.74,65.25"/>
<polygon class="f2" fill="#ff3f00" points="485.74,65.25 492.10,58.62 487.74,53.63 481.38,60.32"/>
<polygon class="f2" fill="#ff3100" points="481.38,60.32 487.74,53.63 483.38,48.64 477.02,55.39"/>
<polygon class="f2" fill="#ff2300" points="477.02,55.39 483.38,48.64 479.03,43.65 472.67,50.46"/>
<polygon class="f2" fill="#ff1500" points="472.67,50.46 479.03,43.65 474.67,38.65 468.31,45.53"/>
<polygon class="f2" fill="#ff0700" points="468.31,45.53 474.67,38.65 470.32,33.66 463.96,40.60"/>
<polygon class="f2" fill="#f80000" points="463.96,40.60 470.32,33.66 465.96,28.67 459.60,35.67"/>
<polygon class="f2" fill="#ea0000" points="459.60,35.67 465.96,28.67 461.61,23.68 455.25,30.74"/>
<polygon class="f2" fill="#dc0000" points="455.25,30.74 461.61,23.68 457.25,18.69 450.89,25.81"/>
<polygon class="f2" fill="#ce0000" points="450.89,25.81 457.25,18.69 452.90,13.70 446.54,20.88"/>
<polygon class="f2" fill="#c00000" points="446.54,20.88 452.90,13.70 448.54,8.70 442.18,15.95"/>
<polygon class="f2" fill="#ff9600" points="526.94,98.56 533.30,92.55 528.94,87.50 522.58,93.56"/>
<polygon class="f2" fill="#ff8700" points="522.58,93.56 528.94,87.50 524.59,82.46 518.23,88.57"/>
<polygon class="f2" fill="#ff7900" points="518.23,88.57 524.59,82.46 520.23,77.41 513.87,83.58"/>
<polygon class="f2" fill="#ff6a00" points="513.87,83.58 520.23,77.41 515.88,72.36 509.52,78.59"/>
<polygon class="f2" fill="#ff5c00" points="509.52,78.59 515.88,72.36 511.52,67.31 505.16,73.60"/>
<polygon class="f2" fill="#ff4d00" points="505.16,73.60 511.52,67.31 507.17,62.27 500.81,68.61"/>
<polygon class="f2" fill="#ff3f00" points="500.81,68.61 507.17,62.27 502.81,57.22 496.45,63.61"/>
<polygon class="f2" fill="#ff3000" points="496.45,63.61 502.81,57.22 498.46,52.17 492.10,58.62"/>
<polygon class="f2" fill="#ff2200" points="492.10,58.62 498.46,52.17 494.10,47.12 487.74,53.63"/>
<polygon class="f2" fill="#ff1300" points="487.74,53.63 494.10,47.12 489.74,42.08 483.38,48.64"/>
<polygon class="f2" fill="#ff0500" points="483.38,48.64 489.74,42.08 485.39,37.03 479.03,43.65"/>
<polygon class="f2" fill="#f60000" points="479.03,43.65 485.39,37.03 481.03,31.98 474.67,38.65"/>
<polygon class="f2" fill="#e70000" points="474.67,38.65 481.03,31.98 476.68,26.94 470.32,33.66"/>
<polygon class="f2" fill="#d90000" points="470.32,33.66 476.68,26.94 472.32,21.89 465.96,28.67"/>
<polygon class="f2" fill="#ca0000" points="465.96,28.67 472.32,21.89 467.97,16.84 461.61,23.68"/>
<polygon class="f2" fill="#bc0000" points="461.61,23.68 467.97,16.84 463.61,11.79 457.25,18.69"/>
<polygon class="f2" fill="#ad0000" points="457.25,18.69 463.61,11.79 459.26,6.75 452.90,13.70"/>
<polygon class="f2" fill="#9f0000" points="452.90,13.70 459.26,6.75 454.90,1.70 448.54,8.70"/>
<line class="a" x1="425.70" y1="264.20" x2="552.90" y2="212.80"/>
<line class="a" x1="425.70" y1="264.20" x2="327.70" y2="197.20"/>
<line class="a" x1="327.70" y1="197.20" x2="327.70" y2="51.90"/>
<line class="a" x1="425.70" y1="264.20" x2="428.75" y2="266.29"/>
<text class="t" x="430.30" y="273.70">1</text>
<line class="a" x1="451.14" y1="253.92" x2="454.19" y2="256.01"/>
<text class="t" x="455.74" y="263.42">1.2</text>
<line class="a" x1="476.58" y1="243.64" x2="479.63" y2="245.73"/>
<text class="t" x="481.18" y="253.14">1.4</text>
<line class="a" x1="502.02" y1="233.36" x2="505.07" y2="235.45"/>
<text class="t" x="506.62" y="242.86">1.6</text>
<line class="a" x1="527.46" y1="223.08" x2="530.51" y2="225.17"/>
<text class="t" x="532.06" y="232.58">1.8</text>
<line class="a" x1="552.90" y1="212.80" x2="555.95" y2="214.89"/>
<text class="t" x="557.50" y="222.30">2</text>
<line class="a" x1="425.70" y1="264.20" x2="422.27" y2="265.59"/>
<text class="t" text-anchor="end" x="421.20" y="272.80">0.55</text>
<line class="a" x1="406.10" y1="250.80" x2="402.67" y2="252.19"/>
<text class="t" text-anchor="end" x="401.60" y="259.40">0.6</text>
<line class="a" x1="386.50" y1="237.40" x2="383.07" y2="238.79"/>
<text class="t" text-anchor="end" x="382.00" y="246.00">0.65</text>
<line class="a" x1="366.90" y1="224.00" x2="363.47" y2="225.39"/>
<text class="t" text-anchor="end" x="362.40" y="232.60">0.7</text>
<line class="a" x1="347.30" y1="210.60" x2="343.87" y2="211.99"/>
<text class="t" text-anchor="end" x="342.80" y="219.20">0.75</text>
<line class="a" x1="327.70" y1="197.20" x2="324.27" y2="198.59"/>
<text class="t" text-anchor="end" x="323.20" y="205.80">0.8</text>
<line class="a" x1="327.70" y1="197.20" x2="324.65" y2="195.11"/>
<text class="t" text-anchor="end" x="323.20" y="197.20">0.09</text>
<line class="a" x1="327.70" y1="176.44" x2="324.65" y2="174.35"/>
<text class="t" text-anchor="end" x="323.20" y="176.44">0.1</text>
<line class="a" x1="327.70" y1="155.69" x2="324.65" y2="153.60"/>
<text class="t" text-anchor="end" x="323.20" y="155.69">0.11</text>
<line class="a" x1="327.70" y1="134.93" x2="324.65" y2="132.84"/>
<text class="t" text-anchor="end" x="323.20" y="134.93">0.12</text>
<line class="a" x1="327.70" y1="114.17" x2="324.65" y2="112.08"/>
<text class="t" text-anchor="end" x="323.20" y="114.17">0.13</text>
<line class="a" x1="327.70" y1="93.41" x2="324.65" y2="91.33"/>
<text class="t" text-anchor="end" x="323.20" y="93.41">0.14</text>
<line class="a" x1="327.70" y1="72.66" x2="324.65" y2="70.57"/>
<text class="t" text-anchor="end" x="323.20" y="72.66">0.15</text>
<line class="a" x1="327.70" y1="51.90" x2="324.65" y2="49.81"/>
<text class="t" text-anchor="end" x="323.20" y="51.90">0.16</text>
<text class="l" text-anchor="middle" x="77" y="263.4">H</text>
<text class="l" x="196.5" y="275.8">Strike price (K)</text>
<text class="l" text-anchor="middle" x="369" y="263.4">H</text>
<text class="l" x="482" y="275.8">Expiration date (T)</text>
<text class="l" transform="translate(8.6,141.6) rotate(-90)" textLength="26" lengthAdjust="spacingAndGlyphs">C(t,S<tspan class="sub" dy="3.6">t</tspan><tspan dy="-3.6">)</tspan></text>
<text class="l" transform="translate(300.6,141.6) rotate(-90)" textLength="26" lengthAdjust="spacingAndGlyphs">C(t,S<tspan class="sub" dy="3.6">t</tspan><tspan dy="-3.6">)</tspan></text>
</svg>
</body></html>
